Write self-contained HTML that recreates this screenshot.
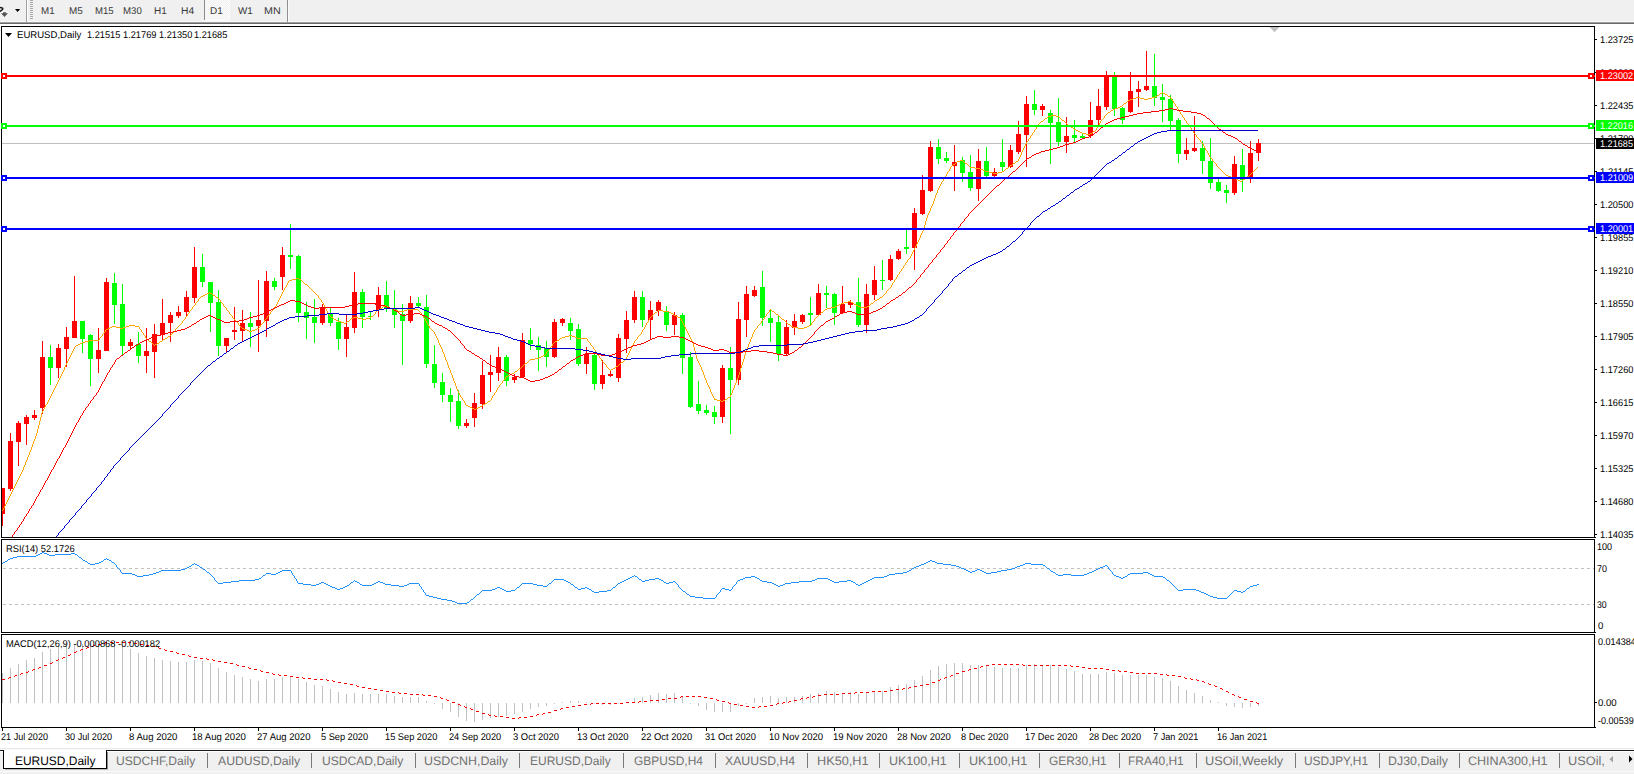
<!DOCTYPE html><html><head><meta charset="utf-8"><title>EURUSD,Daily</title>
<style>
html,body{margin:0;padding:0;background:#fff;}
body{width:1634px;height:774px;position:relative;overflow:hidden;font-family:"Liberation Sans", sans-serif;}
.t{position:absolute;white-space:pre;transform-origin:0 50%;text-rendering:geometricPrecision;}
.sep{position:absolute;top:753px;width:1px;height:15px;background:#7a7a7a;}
.lb{position:absolute;left:1596px;width:38px;height:11px;overflow:hidden;}
svg{position:absolute;left:0;top:0;}
</style></head><body>
<div style="position:absolute;left:0;top:0;width:1634px;height:22px;background:#f0f0f0;"></div>
<div style="position:absolute;left:0;top:21px;width:1634px;height:1px;background:#f6f6f6;"></div>
<div style="position:absolute;left:0;top:22px;width:1634px;height:1px;background:#a0a0a0;"></div>
<div style="position:absolute;left:0;top:23px;width:1634px;height:1px;background:#6a6a6a;"></div>
<div style="position:absolute;left:26px;top:0;width:1px;height:22px;background:#a0a0a0;"></div>
<div style="position:absolute;left:27px;top:0;width:1px;height:22px;background:#fff;"></div>
<div style="position:absolute;left:30px;top:0px;width:3px;height:19px;background:repeating-linear-gradient(to bottom,#a8a8a8 0,#a8a8a8 1px,transparent 1px,transparent 2px);"></div>
<div style="position:absolute;left:204px;top:0;width:25px;height:20px;background:repeating-conic-gradient(#fdfdfd 0 25%,#f0f0f0 0 50%) 0 0/2px 2px;border-left:1px solid #8a8a8a;box-sizing:border-box;"></div>
<div style="position:absolute;left:204px;top:20px;width:26px;height:1px;background:#fbfbfb;"></div>
<div style="position:absolute;left:229px;top:0px;width:1px;height:21px;background:#fbfbfb;"></div>
<div style="position:absolute;left:287px;top:0;width:1px;height:22px;background:#909090;"></div>
<div style="position:absolute;left:288px;top:0;width:1px;height:22px;background:#fafafa;"></div>
<div style="position:absolute;left:0;top:748px;width:1634px;height:26px;background:#f0f0f0;"></div>
<div style="position:absolute;left:0;top:748px;width:1634px;height:1px;background:#e9e9e9;"></div>
<div style="position:absolute;left:0;top:749px;width:1634px;height:1px;background:#f9f9f9;"></div>
<div style="position:absolute;left:0;top:750px;width:1634px;height:1px;background:#1a1a1a;"></div>
<div style="position:absolute;left:0;top:751px;width:1634px;height:1px;background:#fcfcfc;"></div>
<div style="position:absolute;left:0;top:771px;width:1634px;height:1px;background:#fbfbfb;"></div>
<div style="position:absolute;left:3px;top:750px;width:104px;height:19px;background:#fff;border:1px solid #000;border-top:none;box-sizing:border-box;"></div>
<div style="position:absolute;left:107px;top:752px;width:1px;height:18px;background:#8c8c8c;"></div>
<div style="position:absolute;left:5px;top:769px;width:103px;height:1px;background:#bdbdbd;"></div>
<div class="sep" style="left:207px;"></div>
<div class="sep" style="left:311px;"></div>
<div class="sep" style="left:415px;"></div>
<div class="sep" style="left:519px;"></div>
<div class="sep" style="left:623px;"></div>
<div class="sep" style="left:715px;"></div>
<div class="sep" style="left:807px;"></div>
<div class="sep" style="left:879px;"></div>
<div class="sep" style="left:959px;"></div>
<div class="sep" style="left:1039px;"></div>
<div class="sep" style="left:1119px;"></div>
<div class="sep" style="left:1196px;"></div>
<div class="sep" style="left:1295px;"></div>
<div class="sep" style="left:1379px;"></div>
<div class="sep" style="left:1459px;"></div>
<div class="sep" style="left:1559px;"></div>
<svg width="1634" height="774" viewBox="0 0 1634 774" shape-rendering="crispEdges">
<rect x="2" y="143" width="1592" height="1" fill="#c0c0c0"/>
<rect x="2" y="488" width="1" height="38" fill="#ff0000"/>
<rect x="2" y="488" width="3" height="26" fill="#ff0000"/>
<rect x="10" y="433" width="1" height="58" fill="#ff0000"/>
<rect x="8" y="441" width="5" height="48" fill="#ff0000"/>
<rect x="18" y="421" width="1" height="45" fill="#ff0000"/>
<rect x="16" y="423" width="5" height="19" fill="#ff0000"/>
<rect x="26" y="415" width="1" height="30" fill="#ff0000"/>
<rect x="24" y="417" width="5" height="7" fill="#ff0000"/>
<rect x="34" y="410" width="1" height="10" fill="#ff0000"/>
<rect x="32" y="415" width="5" height="3" fill="#ff0000"/>
<rect x="42" y="341" width="1" height="73" fill="#ff0000"/>
<rect x="40" y="357" width="5" height="51" fill="#ff0000"/>
<rect x="50" y="345" width="1" height="40" fill="#00ff00"/>
<rect x="48" y="357" width="5" height="11" fill="#00ff00"/>
<rect x="58" y="344" width="1" height="34" fill="#ff0000"/>
<rect x="56" y="348" width="5" height="20" fill="#ff0000"/>
<rect x="66" y="327" width="1" height="40" fill="#ff0000"/>
<rect x="64" y="337" width="5" height="12" fill="#ff0000"/>
<rect x="74" y="276" width="1" height="62" fill="#ff0000"/>
<rect x="72" y="321" width="5" height="17" fill="#ff0000"/>
<rect x="82" y="321" width="1" height="32" fill="#00ff00"/>
<rect x="80" y="321" width="5" height="18" fill="#00ff00"/>
<rect x="90" y="334" width="1" height="52" fill="#00ff00"/>
<rect x="88" y="335" width="5" height="24" fill="#00ff00"/>
<rect x="98" y="328" width="1" height="45" fill="#ff0000"/>
<rect x="96" y="350" width="5" height="9" fill="#ff0000"/>
<rect x="106" y="278" width="1" height="73" fill="#ff0000"/>
<rect x="104" y="282" width="5" height="69" fill="#ff0000"/>
<rect x="114" y="273" width="1" height="51" fill="#00ff00"/>
<rect x="112" y="283" width="5" height="22" fill="#00ff00"/>
<rect x="122" y="284" width="1" height="72" fill="#00ff00"/>
<rect x="120" y="304" width="5" height="42" fill="#00ff00"/>
<rect x="130" y="339" width="1" height="10" fill="#ff0000"/>
<rect x="128" y="342" width="5" height="4" fill="#ff0000"/>
<rect x="138" y="332" width="1" height="31" fill="#00ff00"/>
<rect x="136" y="344" width="5" height="12" fill="#00ff00"/>
<rect x="146" y="328" width="1" height="45" fill="#ff0000"/>
<rect x="144" y="351" width="5" height="5" fill="#ff0000"/>
<rect x="154" y="324" width="1" height="54" fill="#ff0000"/>
<rect x="152" y="334" width="5" height="18" fill="#ff0000"/>
<rect x="162" y="299" width="1" height="41" fill="#ff0000"/>
<rect x="160" y="323" width="5" height="12" fill="#ff0000"/>
<rect x="170" y="312" width="1" height="30" fill="#ff0000"/>
<rect x="168" y="315" width="5" height="8" fill="#ff0000"/>
<rect x="178" y="306" width="1" height="12" fill="#ff0000"/>
<rect x="176" y="312" width="5" height="4" fill="#ff0000"/>
<rect x="186" y="291" width="1" height="26" fill="#ff0000"/>
<rect x="184" y="297" width="5" height="15" fill="#ff0000"/>
<rect x="194" y="247" width="1" height="56" fill="#ff0000"/>
<rect x="192" y="267" width="5" height="31" fill="#ff0000"/>
<rect x="202" y="254" width="1" height="33" fill="#00ff00"/>
<rect x="200" y="267" width="5" height="15" fill="#00ff00"/>
<rect x="210" y="282" width="1" height="50" fill="#00ff00"/>
<rect x="208" y="282" width="5" height="21" fill="#00ff00"/>
<rect x="218" y="290" width="1" height="66" fill="#00ff00"/>
<rect x="216" y="302" width="5" height="44" fill="#00ff00"/>
<rect x="226" y="338" width="1" height="14" fill="#ff0000"/>
<rect x="224" y="338" width="5" height="8" fill="#ff0000"/>
<rect x="234" y="307" width="1" height="33" fill="#ff0000"/>
<rect x="232" y="330" width="5" height="2" fill="#ff0000"/>
<rect x="242" y="310" width="1" height="31" fill="#ff0000"/>
<rect x="240" y="323" width="5" height="8" fill="#ff0000"/>
<rect x="250" y="312" width="1" height="35" fill="#00ff00"/>
<rect x="248" y="323" width="5" height="4" fill="#00ff00"/>
<rect x="258" y="280" width="1" height="72" fill="#ff0000"/>
<rect x="256" y="320" width="5" height="6" fill="#ff0000"/>
<rect x="266" y="271" width="1" height="66" fill="#ff0000"/>
<rect x="264" y="281" width="5" height="40" fill="#ff0000"/>
<rect x="274" y="278" width="1" height="12" fill="#00ff00"/>
<rect x="272" y="281" width="5" height="6" fill="#00ff00"/>
<rect x="282" y="247" width="1" height="43" fill="#ff0000"/>
<rect x="280" y="255" width="5" height="22" fill="#ff0000"/>
<rect x="290" y="224" width="1" height="45" fill="#00ff00"/>
<rect x="288" y="255" width="5" height="2" fill="#00ff00"/>
<rect x="298" y="255" width="1" height="67" fill="#00ff00"/>
<rect x="296" y="256" width="5" height="57" fill="#00ff00"/>
<rect x="306" y="302" width="1" height="37" fill="#00ff00"/>
<rect x="304" y="312" width="5" height="6" fill="#00ff00"/>
<rect x="314" y="299" width="1" height="44" fill="#00ff00"/>
<rect x="312" y="317" width="5" height="6" fill="#00ff00"/>
<rect x="322" y="304" width="1" height="21" fill="#ff0000"/>
<rect x="320" y="307" width="5" height="16" fill="#ff0000"/>
<rect x="330" y="308" width="1" height="18" fill="#00ff00"/>
<rect x="328" y="313" width="5" height="10" fill="#00ff00"/>
<rect x="338" y="318" width="1" height="32" fill="#00ff00"/>
<rect x="336" y="322" width="5" height="17" fill="#00ff00"/>
<rect x="346" y="314" width="1" height="43" fill="#ff0000"/>
<rect x="344" y="327" width="5" height="12" fill="#ff0000"/>
<rect x="354" y="272" width="1" height="61" fill="#ff0000"/>
<rect x="352" y="292" width="5" height="36" fill="#ff0000"/>
<rect x="362" y="289" width="1" height="39" fill="#00ff00"/>
<rect x="360" y="292" width="5" height="25" fill="#00ff00"/>
<rect x="370" y="311" width="1" height="9" fill="#00ff00"/>
<rect x="368" y="316" width="5" height="1" fill="#00ff00"/>
<rect x="378" y="287" width="1" height="30" fill="#ff0000"/>
<rect x="376" y="295" width="5" height="15" fill="#ff0000"/>
<rect x="386" y="281" width="1" height="31" fill="#00ff00"/>
<rect x="384" y="295" width="5" height="14" fill="#00ff00"/>
<rect x="394" y="290" width="1" height="38" fill="#00ff00"/>
<rect x="392" y="309" width="5" height="6" fill="#00ff00"/>
<rect x="402" y="304" width="1" height="61" fill="#00ff00"/>
<rect x="400" y="314" width="5" height="7" fill="#00ff00"/>
<rect x="410" y="296" width="1" height="27" fill="#ff0000"/>
<rect x="408" y="303" width="5" height="18" fill="#ff0000"/>
<rect x="418" y="297" width="1" height="10" fill="#00ff00"/>
<rect x="416" y="303" width="5" height="3" fill="#00ff00"/>
<rect x="426" y="295" width="1" height="73" fill="#00ff00"/>
<rect x="424" y="307" width="5" height="57" fill="#00ff00"/>
<rect x="434" y="345" width="1" height="43" fill="#00ff00"/>
<rect x="432" y="364" width="5" height="19" fill="#00ff00"/>
<rect x="442" y="373" width="1" height="29" fill="#00ff00"/>
<rect x="440" y="382" width="5" height="13" fill="#00ff00"/>
<rect x="450" y="388" width="1" height="34" fill="#00ff00"/>
<rect x="448" y="395" width="5" height="7" fill="#00ff00"/>
<rect x="458" y="390" width="1" height="39" fill="#00ff00"/>
<rect x="456" y="401" width="5" height="25" fill="#00ff00"/>
<rect x="466" y="419" width="1" height="9" fill="#ff0000"/>
<rect x="464" y="423" width="5" height="3" fill="#ff0000"/>
<rect x="474" y="393" width="1" height="34" fill="#ff0000"/>
<rect x="472" y="403" width="5" height="15" fill="#ff0000"/>
<rect x="482" y="361" width="1" height="48" fill="#ff0000"/>
<rect x="480" y="375" width="5" height="29" fill="#ff0000"/>
<rect x="490" y="355" width="1" height="37" fill="#ff0000"/>
<rect x="488" y="372" width="5" height="3" fill="#ff0000"/>
<rect x="498" y="347" width="1" height="34" fill="#ff0000"/>
<rect x="496" y="357" width="5" height="16" fill="#ff0000"/>
<rect x="506" y="355" width="1" height="31" fill="#00ff00"/>
<rect x="504" y="357" width="5" height="24" fill="#00ff00"/>
<rect x="514" y="374" width="1" height="9" fill="#ff0000"/>
<rect x="512" y="377" width="5" height="3" fill="#ff0000"/>
<rect x="522" y="333" width="1" height="45" fill="#ff0000"/>
<rect x="520" y="340" width="5" height="37" fill="#ff0000"/>
<rect x="530" y="328" width="1" height="22" fill="#00ff00"/>
<rect x="528" y="340" width="5" height="4" fill="#00ff00"/>
<rect x="538" y="337" width="1" height="34" fill="#00ff00"/>
<rect x="536" y="345" width="5" height="5" fill="#00ff00"/>
<rect x="546" y="341" width="1" height="26" fill="#00ff00"/>
<rect x="544" y="348" width="5" height="9" fill="#00ff00"/>
<rect x="554" y="319" width="1" height="39" fill="#ff0000"/>
<rect x="552" y="322" width="5" height="35" fill="#ff0000"/>
<rect x="562" y="318" width="1" height="8" fill="#ff0000"/>
<rect x="560" y="319" width="5" height="4" fill="#ff0000"/>
<rect x="570" y="318" width="1" height="22" fill="#00ff00"/>
<rect x="568" y="323" width="5" height="8" fill="#00ff00"/>
<rect x="578" y="324" width="1" height="42" fill="#00ff00"/>
<rect x="576" y="329" width="5" height="35" fill="#00ff00"/>
<rect x="586" y="347" width="1" height="27" fill="#ff0000"/>
<rect x="584" y="354" width="5" height="10" fill="#ff0000"/>
<rect x="594" y="353" width="1" height="37" fill="#00ff00"/>
<rect x="592" y="355" width="5" height="29" fill="#00ff00"/>
<rect x="602" y="360" width="1" height="29" fill="#ff0000"/>
<rect x="600" y="375" width="5" height="9" fill="#ff0000"/>
<rect x="610" y="371" width="1" height="6" fill="#ff0000"/>
<rect x="608" y="374" width="5" height="2" fill="#ff0000"/>
<rect x="618" y="334" width="1" height="48" fill="#ff0000"/>
<rect x="616" y="338" width="5" height="40" fill="#ff0000"/>
<rect x="626" y="311" width="1" height="42" fill="#ff0000"/>
<rect x="624" y="320" width="5" height="19" fill="#ff0000"/>
<rect x="634" y="291" width="1" height="32" fill="#ff0000"/>
<rect x="632" y="297" width="5" height="23" fill="#ff0000"/>
<rect x="642" y="291" width="1" height="36" fill="#00ff00"/>
<rect x="640" y="297" width="5" height="23" fill="#00ff00"/>
<rect x="650" y="301" width="1" height="38" fill="#ff0000"/>
<rect x="648" y="310" width="5" height="10" fill="#ff0000"/>
<rect x="658" y="300" width="1" height="16" fill="#ff0000"/>
<rect x="656" y="302" width="5" height="9" fill="#ff0000"/>
<rect x="666" y="306" width="1" height="25" fill="#00ff00"/>
<rect x="664" y="311" width="5" height="14" fill="#00ff00"/>
<rect x="674" y="312" width="1" height="23" fill="#ff0000"/>
<rect x="672" y="315" width="5" height="10" fill="#ff0000"/>
<rect x="682" y="313" width="1" height="61" fill="#00ff00"/>
<rect x="680" y="315" width="5" height="43" fill="#00ff00"/>
<rect x="690" y="352" width="1" height="56" fill="#00ff00"/>
<rect x="688" y="357" width="5" height="50" fill="#00ff00"/>
<rect x="698" y="381" width="1" height="33" fill="#00ff00"/>
<rect x="696" y="404" width="5" height="7" fill="#00ff00"/>
<rect x="706" y="405" width="1" height="10" fill="#00ff00"/>
<rect x="704" y="410" width="5" height="3" fill="#00ff00"/>
<rect x="714" y="406" width="1" height="18" fill="#00ff00"/>
<rect x="712" y="412" width="5" height="5" fill="#00ff00"/>
<rect x="722" y="365" width="1" height="58" fill="#ff0000"/>
<rect x="720" y="368" width="5" height="49" fill="#ff0000"/>
<rect x="730" y="347" width="1" height="87" fill="#00ff00"/>
<rect x="728" y="368" width="5" height="12" fill="#00ff00"/>
<rect x="738" y="302" width="1" height="83" fill="#ff0000"/>
<rect x="736" y="319" width="5" height="61" fill="#ff0000"/>
<rect x="746" y="286" width="1" height="51" fill="#ff0000"/>
<rect x="744" y="294" width="5" height="26" fill="#ff0000"/>
<rect x="754" y="286" width="1" height="11" fill="#ff0000"/>
<rect x="752" y="290" width="5" height="6" fill="#ff0000"/>
<rect x="762" y="271" width="1" height="55" fill="#00ff00"/>
<rect x="760" y="287" width="5" height="31" fill="#00ff00"/>
<rect x="770" y="309" width="1" height="33" fill="#00ff00"/>
<rect x="768" y="318" width="5" height="5" fill="#00ff00"/>
<rect x="778" y="316" width="1" height="45" fill="#00ff00"/>
<rect x="776" y="322" width="5" height="32" fill="#00ff00"/>
<rect x="786" y="320" width="1" height="36" fill="#ff0000"/>
<rect x="784" y="327" width="5" height="27" fill="#ff0000"/>
<rect x="794" y="314" width="1" height="21" fill="#ff0000"/>
<rect x="792" y="321" width="5" height="7" fill="#ff0000"/>
<rect x="802" y="314" width="1" height="10" fill="#ff0000"/>
<rect x="800" y="315" width="5" height="7" fill="#ff0000"/>
<rect x="810" y="297" width="1" height="29" fill="#00ff00"/>
<rect x="808" y="313" width="5" height="2" fill="#00ff00"/>
<rect x="818" y="284" width="1" height="31" fill="#ff0000"/>
<rect x="816" y="293" width="5" height="22" fill="#ff0000"/>
<rect x="826" y="286" width="1" height="22" fill="#00ff00"/>
<rect x="824" y="293" width="5" height="2" fill="#00ff00"/>
<rect x="834" y="293" width="1" height="32" fill="#00ff00"/>
<rect x="832" y="294" width="5" height="19" fill="#00ff00"/>
<rect x="842" y="286" width="1" height="28" fill="#ff0000"/>
<rect x="840" y="304" width="5" height="9" fill="#ff0000"/>
<rect x="850" y="300" width="1" height="8" fill="#ff0000"/>
<rect x="848" y="302" width="5" height="3" fill="#ff0000"/>
<rect x="858" y="278" width="1" height="49" fill="#00ff00"/>
<rect x="856" y="302" width="5" height="23" fill="#00ff00"/>
<rect x="866" y="284" width="1" height="49" fill="#ff0000"/>
<rect x="864" y="294" width="5" height="31" fill="#ff0000"/>
<rect x="874" y="266" width="1" height="34" fill="#ff0000"/>
<rect x="872" y="280" width="5" height="15" fill="#ff0000"/>
<rect x="882" y="260" width="1" height="30" fill="#00ff00"/>
<rect x="880" y="280" width="5" height="1" fill="#00ff00"/>
<rect x="890" y="255" width="1" height="26" fill="#ff0000"/>
<rect x="888" y="259" width="5" height="21" fill="#ff0000"/>
<rect x="898" y="249" width="1" height="11" fill="#ff0000"/>
<rect x="896" y="251" width="5" height="8" fill="#ff0000"/>
<rect x="906" y="230" width="1" height="24" fill="#00ff00"/>
<rect x="904" y="247" width="5" height="2" fill="#00ff00"/>
<rect x="914" y="208" width="1" height="62" fill="#ff0000"/>
<rect x="912" y="213" width="5" height="35" fill="#ff0000"/>
<rect x="922" y="175" width="1" height="40" fill="#ff0000"/>
<rect x="920" y="190" width="5" height="24" fill="#ff0000"/>
<rect x="930" y="141" width="1" height="51" fill="#ff0000"/>
<rect x="928" y="147" width="5" height="44" fill="#ff0000"/>
<rect x="938" y="139" width="1" height="25" fill="#00ff00"/>
<rect x="936" y="147" width="5" height="12" fill="#00ff00"/>
<rect x="946" y="152" width="1" height="11" fill="#00ff00"/>
<rect x="944" y="158" width="5" height="3" fill="#00ff00"/>
<rect x="954" y="145" width="1" height="46" fill="#ff0000"/>
<rect x="952" y="162" width="5" height="4" fill="#ff0000"/>
<rect x="962" y="157" width="1" height="25" fill="#00ff00"/>
<rect x="960" y="160" width="5" height="13" fill="#00ff00"/>
<rect x="970" y="155" width="1" height="36" fill="#00ff00"/>
<rect x="968" y="172" width="5" height="16" fill="#00ff00"/>
<rect x="978" y="149" width="1" height="52" fill="#ff0000"/>
<rect x="976" y="161" width="5" height="28" fill="#ff0000"/>
<rect x="986" y="147" width="1" height="30" fill="#00ff00"/>
<rect x="984" y="161" width="5" height="15" fill="#00ff00"/>
<rect x="994" y="168" width="1" height="9" fill="#ff0000"/>
<rect x="992" y="172" width="5" height="4" fill="#ff0000"/>
<rect x="1002" y="139" width="1" height="33" fill="#00ff00"/>
<rect x="1000" y="162" width="5" height="5" fill="#00ff00"/>
<rect x="1010" y="145" width="1" height="23" fill="#ff0000"/>
<rect x="1008" y="150" width="5" height="17" fill="#ff0000"/>
<rect x="1018" y="121" width="1" height="33" fill="#ff0000"/>
<rect x="1016" y="134" width="5" height="18" fill="#ff0000"/>
<rect x="1026" y="96" width="1" height="71" fill="#ff0000"/>
<rect x="1024" y="104" width="5" height="31" fill="#ff0000"/>
<rect x="1034" y="90" width="1" height="25" fill="#00ff00"/>
<rect x="1032" y="104" width="5" height="6" fill="#00ff00"/>
<rect x="1042" y="104" width="1" height="12" fill="#ff0000"/>
<rect x="1040" y="106" width="5" height="4" fill="#ff0000"/>
<rect x="1050" y="110" width="1" height="54" fill="#00ff00"/>
<rect x="1048" y="113" width="5" height="10" fill="#00ff00"/>
<rect x="1058" y="98" width="1" height="48" fill="#00ff00"/>
<rect x="1056" y="122" width="5" height="20" fill="#00ff00"/>
<rect x="1066" y="117" width="1" height="36" fill="#ff0000"/>
<rect x="1064" y="136" width="5" height="6" fill="#ff0000"/>
<rect x="1074" y="120" width="1" height="23" fill="#00ff00"/>
<rect x="1072" y="135" width="5" height="3" fill="#00ff00"/>
<rect x="1082" y="133" width="1" height="6" fill="#00ff00"/>
<rect x="1080" y="136" width="5" height="2" fill="#00ff00"/>
<rect x="1090" y="102" width="1" height="36" fill="#ff0000"/>
<rect x="1088" y="120" width="5" height="16" fill="#ff0000"/>
<rect x="1098" y="89" width="1" height="36" fill="#ff0000"/>
<rect x="1096" y="106" width="5" height="14" fill="#ff0000"/>
<rect x="1106" y="71" width="1" height="39" fill="#ff0000"/>
<rect x="1104" y="76" width="5" height="31" fill="#ff0000"/>
<rect x="1114" y="72" width="1" height="44" fill="#00ff00"/>
<rect x="1112" y="76" width="5" height="33" fill="#00ff00"/>
<rect x="1122" y="107" width="1" height="17" fill="#00ff00"/>
<rect x="1120" y="108" width="5" height="12" fill="#00ff00"/>
<rect x="1130" y="72" width="1" height="41" fill="#ff0000"/>
<rect x="1128" y="91" width="5" height="21" fill="#ff0000"/>
<rect x="1138" y="81" width="1" height="26" fill="#ff0000"/>
<rect x="1136" y="89" width="5" height="3" fill="#ff0000"/>
<rect x="1146" y="51" width="1" height="40" fill="#ff0000"/>
<rect x="1144" y="86" width="5" height="4" fill="#ff0000"/>
<rect x="1154" y="54" width="1" height="52" fill="#00ff00"/>
<rect x="1152" y="86" width="5" height="12" fill="#00ff00"/>
<rect x="1162" y="84" width="1" height="38" fill="#00ff00"/>
<rect x="1160" y="97" width="5" height="3" fill="#00ff00"/>
<rect x="1170" y="95" width="1" height="36" fill="#00ff00"/>
<rect x="1168" y="99" width="5" height="22" fill="#00ff00"/>
<rect x="1178" y="118" width="1" height="45" fill="#00ff00"/>
<rect x="1176" y="120" width="5" height="34" fill="#00ff00"/>
<rect x="1186" y="138" width="1" height="22" fill="#ff0000"/>
<rect x="1184" y="150" width="5" height="4" fill="#ff0000"/>
<rect x="1194" y="116" width="1" height="36" fill="#ff0000"/>
<rect x="1192" y="148" width="5" height="3" fill="#ff0000"/>
<rect x="1202" y="141" width="1" height="33" fill="#00ff00"/>
<rect x="1200" y="148" width="5" height="13" fill="#00ff00"/>
<rect x="1210" y="138" width="1" height="51" fill="#00ff00"/>
<rect x="1208" y="161" width="5" height="22" fill="#00ff00"/>
<rect x="1218" y="179" width="1" height="13" fill="#00ff00"/>
<rect x="1216" y="182" width="5" height="9" fill="#00ff00"/>
<rect x="1226" y="185" width="1" height="18" fill="#00ff00"/>
<rect x="1224" y="190" width="5" height="3" fill="#00ff00"/>
<rect x="1234" y="156" width="1" height="39" fill="#ff0000"/>
<rect x="1232" y="164" width="5" height="29" fill="#ff0000"/>
<rect x="1242" y="149" width="1" height="43" fill="#00ff00"/>
<rect x="1240" y="165" width="5" height="15" fill="#00ff00"/>
<rect x="1250" y="141" width="1" height="42" fill="#ff0000"/>
<rect x="1248" y="153" width="5" height="25" fill="#ff0000"/>
<rect x="1258" y="139" width="1" height="22" fill="#ff0000"/>
<rect x="1256" y="143" width="5" height="10" fill="#ff0000"/>
<path d="M1160 93.5h2M1163 93.5h2M1165 94.5h2M1157 95.5h2M1155 96.5h2M1168 96.5h2M1136 97.5h4M1152 97.5h3M1133 98.5h3M1140 98.5h4M1148 98.5h4M1130 99.5h3M1144 99.5h4M1128 100.5h2M1124 103.5h2M1120 106.5h2M1118 107.5h2M1115 108.5h3M1113 109.5h2M1111 110.5h2M1108 112.5h2M1051 115.5h5M1048 116.5h3M1056 116.5h3M1045 118.5h2M1062 120.5h2M1041 121.5h2M1068 125.5h2M1071 127.5h2M1074 129.5h2M1076 130.5h2M1078 131.5h2M1093 131.5h2M1080 132.5h2M1082 133.5h4M1090 133.5h2M1086 134.5h4M960 160.5h3M957 161.5h3M1016 161.5h2M965 163.5h2M1013 163.5h2M953 164.5h2M1010 165.5h2M970 167.5h5M975 168.5h5M1006 168.5h2M980 169.5h3M983 170.5h2M985 171.5h4M1002 171.5h2M989 172.5h4M998 172.5h4M993 173.5h5M1226 175.5h2M1228 176.5h3M1247 176.5h2M1231 177.5h2M1233 178.5h3M1236 179.5h2M1243 179.5h2M1238 180.5h2M1240 181.5h2M296 278.5h3M292 279.5h4M299 279.5h2M289 280.5h3M305 284.5h2M207 293.5h2M210 293.5h2M205 294.5h2M203 295.5h2M213 295.5h2M201 296.5h2M216 297.5h2M880 297.5h2M877 299.5h2M875 300.5h2M848 301.5h3M844 302.5h4M851 302.5h2M841 303.5h3M871 303.5h2M839 304.5h2M854 304.5h2M837 305.5h2M856 305.5h2M383 306.5h2M386 306.5h2M835 306.5h2M858 306.5h2M867 306.5h2M388 307.5h2M831 307.5h4M860 307.5h7M380 308.5h2M390 308.5h3M827 308.5h4M378 309.5h2M393 309.5h2M407 309.5h11M825 309.5h2M395 310.5h3M404 310.5h3M658 310.5h5M398 311.5h6M663 311.5h6M772 311.5h2M655 312.5h2M669 312.5h2M821 312.5h2M671 313.5h2M776 314.5h2M674 315.5h2M371 316.5h2M676 316.5h2M331 317.5h2M353 317.5h5M678 317.5h2M351 318.5h2M358 318.5h4M366 318.5h4M334 319.5h2M362 319.5h4M782 319.5h2M336 320.5h2M338 321.5h3M347 321.5h2M341 322.5h3M344 323.5h2M788 324.5h2M129 325.5h6M809 325.5h2M112 326.5h4M126 326.5h3M135 326.5h4M791 326.5h2M807 326.5h2M110 327.5h2M116 327.5h4M123 327.5h3M793 327.5h5M804 327.5h3M108 328.5h2M120 328.5h3M242 328.5h2M257 328.5h2M798 328.5h6M106 329.5h2M244 329.5h3M255 329.5h2M247 330.5h2M252 330.5h3M249 331.5h3M569 335.5h3M168 336.5h2M565 336.5h4M572 336.5h3M562 337.5h3M575 337.5h2M165 338.5h2M560 338.5h2M577 338.5h10M163 339.5h2M89 340.5h10M557 340.5h2M85 341.5h4M149 341.5h2M160 341.5h2M555 341.5h2M82 342.5h3M80 343.5h2M157 343.5h2M78 344.5h2M155 344.5h2M76 345.5h2M543 355.5h2M541 356.5h2M539 357.5h2M535 358.5h4M530 359.5h5M621 362.5h2M525 363.5h2M616 366.5h2M519 368.5h2M613 368.5h2M611 369.5h2M515 371.5h2M512 373.5h2M510 374.5h2M508 375.5h2M506 376.5h2M728 397.5h2M714 399.5h3M725 399.5h2M717 400.5h4M723 400.5h2M488 401.5h2M721 401.5h2M485 403.5h2M483 404.5h2M466 405.5h2M468 406.5h2M480 406.5h2M470 407.5h2M478 407.5h2M472 408.5h2M476 408.5h2M474 409.5h2M2.5 510v1M3.5 508v2M4.5 506v2M5.5 504v2M6.5 502v2M7.5 500v2M8.5 498v2M9.5 496v2M10.5 494v2M11.5 492v2M12.5 490v2M13.5 488v2M14.5 486v2M15.5 484v2M16.5 482v2M17.5 480v2M18.5 478v2M19.5 476v2M20.5 474v2M21.5 472v2M22.5 470v2M23.5 467v3M24.5 465v2M25.5 462v3M26.5 460v2M27.5 457v3M28.5 455v2M29.5 452v3M30.5 450v2M31.5 447v3M32.5 444v3M33.5 441v3M34.5 439v2M35.5 436v3M36.5 433v3M37.5 429v4M38.5 425v4M39.5 421v4M40.5 417v4M41.5 413v4M42.5 411v2M43.5 409v2M44.5 407v2M45.5 405v2M46.5 404v1M47.5 402v2M48.5 400v2M49.5 398v2M50.5 396v2M51.5 394v2M52.5 392v2M53.5 390v2M54.5 388v2M55.5 386v2M56.5 384v2M57.5 382v2M58.5 380v2M59.5 378v2M60.5 376v2M61.5 374v2M62.5 372v2M63.5 370v2M64.5 367v3M65.5 365v2M66.5 363v2M67.5 361v2M68.5 359v2M69.5 357v2M70.5 355v2M71.5 353v2M72.5 351v2M73.5 349v2M74.5 347v2M75.5 346v1M99.5 338v2M100.5 337v1M101.5 336v1M102.5 334v2M103.5 333v1M104.5 332v1M105.5 330v2M139.5 327v2M140.5 329v1M141.5 330v2M142.5 332v1M143.5 333v2M144.5 335v1M145.5 336v2M146.5 338v1M147.5 339v1M148.5 340v1M151.5 342v1M152.5 343v1M153.5 344v1M154.5 345v1M159.5 342v1M162.5 340v1M167.5 337v1M170.5 335v1M171.5 334v1M172.5 333v1M173.5 332v1M174.5 331v1M175.5 329v2M176.5 328v1M177.5 327v1M178.5 326v1M179.5 325v1M180.5 324v1M181.5 323v1M182.5 321v2M183.5 320v1M184.5 319v1M185.5 317v2M186.5 316v1M187.5 314v2M188.5 313v1M189.5 311v2M190.5 310v1M191.5 309v1M192.5 307v2M193.5 306v1M194.5 305v1M195.5 303v2M196.5 302v1M197.5 301v1M198.5 299v2M199.5 298v1M200.5 297v1M209.5 292v1M212.5 294v1M215.5 296v1M218.5 298v1M219.5 299v1M220.5 300v2M221.5 302v1M222.5 303v1M223.5 304v2M224.5 306v1M225.5 307v1M226.5 308v2M227.5 310v1M228.5 311v1M229.5 312v2M230.5 314v1M231.5 315v1M232.5 316v2M233.5 318v1M234.5 319v1M235.5 320v1M236.5 321v1M237.5 322v1M238.5 323v2M239.5 325v1M240.5 326v1M241.5 327v1M259.5 327v1M260.5 325v2M261.5 324v1M262.5 323v1M263.5 322v1M264.5 320v2M265.5 319v1M266.5 318v1M267.5 316v2M268.5 315v1M269.5 314v1M270.5 312v2M271.5 311v1M272.5 310v1M273.5 308v2M274.5 307v1M275.5 306v1M276.5 304v2M277.5 302v2M278.5 300v2M279.5 298v2M280.5 296v2M281.5 294v2M282.5 292v2M283.5 290v2M284.5 288v2M285.5 287v1M286.5 285v2M287.5 283v2M288.5 281v2M301.5 280v1M302.5 281v1M303.5 282v1M304.5 283v1M307.5 285v1M308.5 286v1M309.5 287v1M310.5 288v1M311.5 289v1M312.5 290v1M313.5 291v1M314.5 292v1M315.5 293v1M316.5 294v1M317.5 295v1M318.5 296v2M319.5 298v1M320.5 299v1M321.5 300v2M322.5 302v1M323.5 303v2M324.5 305v2M325.5 307v2M326.5 309v2M327.5 311v2M328.5 313v1M329.5 314v2M330.5 316v1M333.5 318v1M346.5 322v1M349.5 320v1M350.5 319v1M370.5 317v1M373.5 315v1M374.5 314v1M375.5 312v2M376.5 311v1M377.5 310v1M382.5 307v1M385.5 305v1M418.5 310v1M419.5 311v1M420.5 312v1M421.5 313v2M422.5 315v1M423.5 316v2M424.5 318v1M425.5 319v2M426.5 321v2M427.5 323v2M428.5 325v1M429.5 326v2M430.5 328v1M431.5 329v1M432.5 330v1M433.5 331v1M434.5 332v2M435.5 334v2M436.5 336v2M437.5 338v2M438.5 340v3M439.5 343v2M440.5 345v2M441.5 347v2M442.5 349v3M443.5 352v2M444.5 354v3M445.5 357v3M446.5 360v2M447.5 362v3M448.5 365v3M449.5 368v2M450.5 370v3M451.5 373v2M452.5 375v3M453.5 378v3M454.5 381v2M455.5 383v3M456.5 386v3M457.5 389v2M458.5 391v2M459.5 393v2M460.5 395v2M461.5 397v1M462.5 398v2M463.5 400v1M464.5 401v2M465.5 403v2M482.5 405v1M487.5 402v1M490.5 400v1M491.5 398v2M492.5 396v2M493.5 395v1M494.5 393v2M495.5 392v1M496.5 390v2M497.5 388v2M498.5 387v1M499.5 385v2M500.5 384v1M501.5 383v1M502.5 381v2M503.5 380v1M504.5 379v1M505.5 377v2M514.5 372v1M517.5 370v1M518.5 369v1M521.5 367v1M522.5 366v1M523.5 365v1M524.5 364v1M527.5 362v1M528.5 361v1M529.5 360v1M545.5 354v1M546.5 352v2M547.5 351v1M548.5 350v1M549.5 348v2M550.5 347v1M551.5 346v1M552.5 344v2M553.5 343v1M554.5 342v1M559.5 339v1M587.5 339v2M588.5 341v1M589.5 342v1M590.5 343v2M591.5 345v1M592.5 346v1M593.5 347v2M594.5 349v1M595.5 350v2M596.5 352v1M597.5 353v2M598.5 355v1M599.5 356v2M600.5 358v1M601.5 359v2M602.5 361v1M603.5 362v1M604.5 363v1M605.5 364v1M606.5 365v2M607.5 367v1M608.5 368v1M609.5 369v1M610.5 370v1M615.5 367v1M618.5 365v1M619.5 364v1M620.5 363v1M623.5 361v1M624.5 360v1M625.5 359v1M626.5 357v2M627.5 355v2M628.5 353v2M629.5 351v2M630.5 349v2M631.5 347v2M632.5 345v2M633.5 343v2M634.5 341v2M635.5 340v1M636.5 339v1M637.5 337v2M638.5 336v1M639.5 335v1M640.5 334v1M641.5 332v2M642.5 330v2M643.5 329v1M644.5 327v2M645.5 325v2M646.5 323v2M647.5 322v1M648.5 320v2M649.5 318v2M650.5 317v1M651.5 316v1M652.5 315v1M653.5 314v1M654.5 313v1M657.5 311v1M673.5 314v1M680.5 318v1M681.5 319v2M682.5 321v2M683.5 323v2M684.5 325v2M685.5 327v2M686.5 329v2M687.5 331v2M688.5 333v2M689.5 335v2M690.5 337v2M691.5 339v2M692.5 341v2M693.5 343v4M694.5 347v4M695.5 351v4M696.5 355v4M697.5 359v2M698.5 361v2M699.5 363v2M700.5 365v2M701.5 367v3M702.5 370v2M703.5 372v3M704.5 375v3M705.5 378v2M706.5 380v3M707.5 383v2M708.5 385v2M709.5 387v2M710.5 389v3M711.5 392v2M712.5 394v2M713.5 396v2M714.5 398v1M727.5 398v1M730.5 395v2M731.5 393v2M732.5 390v3M733.5 388v2M734.5 385v3M735.5 383v2M736.5 380v3M737.5 378v2M738.5 375v3M739.5 372v3M740.5 368v4M741.5 365v3M742.5 362v3M743.5 359v3M744.5 355v4M745.5 352v3M746.5 349v3M747.5 347v2M748.5 344v3M749.5 342v2M750.5 339v3M751.5 337v2M752.5 334v3M753.5 332v2M754.5 330v2M755.5 329v1M756.5 328v1M757.5 326v2M758.5 325v1M759.5 324v1M760.5 323v1M761.5 321v2M762.5 320v1M763.5 319v1M764.5 317v2M765.5 316v1M766.5 314v2M767.5 313v1M768.5 312v1M769.5 310v2M770.5 309v1M771.5 310v1M774.5 312v1M775.5 313v1M778.5 315v1M779.5 316v1M780.5 317v1M781.5 318v1M784.5 320v1M785.5 321v1M786.5 322v1M787.5 323v1M790.5 325v1M811.5 323v2M812.5 322v1M813.5 321v1M814.5 319v2M815.5 318v1M816.5 317v1M817.5 316v1M818.5 315v1M819.5 314v1M820.5 313v1M823.5 311v1M824.5 310v1M853.5 303v1M869.5 305v1M870.5 304v1M873.5 302v1M874.5 301v1M879.5 298v1M882.5 296v1M883.5 295v1M884.5 294v1M885.5 293v1M886.5 291v2M887.5 290v1M888.5 289v1M889.5 288v1M890.5 287v1M891.5 285v2M892.5 283v2M893.5 282v1M894.5 280v2M895.5 279v1M896.5 277v2M897.5 275v2M898.5 274v1M899.5 272v2M900.5 271v1M901.5 269v2M902.5 268v1M903.5 266v2M904.5 265v1M905.5 263v2M906.5 262v1M907.5 260v2M908.5 259v1M909.5 258v1M910.5 256v2M911.5 254v2M912.5 252v2M913.5 250v2M914.5 248v2M915.5 246v2M916.5 244v2M917.5 242v2M918.5 240v2M919.5 238v2M920.5 235v3M921.5 233v2M922.5 231v2M923.5 228v3M924.5 225v3M925.5 221v4M926.5 218v3M927.5 215v3M928.5 213v2M929.5 211v2M930.5 208v3M931.5 206v2M932.5 204v2M933.5 201v3M934.5 198v3M935.5 195v3M936.5 193v2M937.5 190v3M938.5 188v2M939.5 186v2M940.5 184v2M941.5 182v2M942.5 181v1M943.5 179v2M944.5 177v2M945.5 176v1M946.5 174v2M947.5 172v2M948.5 171v1M949.5 169v2M950.5 167v2M951.5 166v1M952.5 165v1M955.5 163v1M956.5 162v1M963.5 161v1M964.5 162v1M967.5 164v1M968.5 165v1M969.5 166v1M1004.5 170v1M1005.5 169v1M1008.5 167v1M1009.5 166v1M1012.5 164v1M1015.5 162v1M1018.5 159v2M1019.5 157v2M1020.5 155v2M1021.5 152v3M1022.5 150v2M1023.5 148v2M1024.5 146v2M1025.5 144v2M1026.5 142v2M1027.5 141v1M1028.5 139v2M1029.5 138v1M1030.5 136v2M1031.5 135v1M1032.5 133v2M1033.5 132v1M1034.5 130v2M1035.5 129v1M1036.5 127v2M1037.5 126v1M1038.5 124v2M1039.5 123v1M1040.5 122v1M1043.5 120v1M1044.5 119v1M1047.5 117v1M1059.5 117v1M1060.5 118v1M1061.5 119v1M1064.5 121v1M1065.5 122v1M1066.5 123v1M1067.5 124v1M1070.5 126v1M1073.5 128v1M1092.5 132v1M1095.5 130v1M1096.5 128v2M1097.5 126v2M1098.5 125v1M1099.5 123v2M1100.5 121v2M1101.5 120v1M1102.5 119v1M1103.5 118v1M1104.5 116v2M1105.5 115v1M1106.5 114v1M1107.5 113v1M1110.5 111v1M1122.5 105v1M1123.5 104v1M1126.5 102v1M1127.5 101v1M1159.5 94v1M1162.5 92v1M1167.5 95v1M1170.5 97v1M1171.5 98v2M1172.5 100v1M1173.5 101v2M1174.5 103v1M1175.5 104v2M1176.5 106v1M1177.5 107v2M1178.5 109v1M1179.5 110v2M1180.5 112v2M1181.5 114v1M1182.5 115v2M1183.5 117v1M1184.5 118v2M1185.5 120v1M1186.5 121v2M1187.5 123v1M1188.5 124v1M1189.5 125v2M1190.5 127v1M1191.5 128v2M1192.5 130v1M1193.5 131v2M1194.5 133v1M1195.5 134v1M1196.5 135v2M1197.5 137v1M1198.5 138v1M1199.5 139v1M1200.5 140v2M1201.5 142v1M1202.5 143v1M1203.5 144v2M1204.5 146v2M1205.5 148v2M1206.5 150v1M1207.5 151v2M1208.5 153v2M1209.5 155v2M1210.5 157v1M1211.5 158v1M1212.5 159v2M1213.5 161v1M1214.5 162v1M1215.5 163v1M1216.5 164v2M1217.5 166v1M1218.5 167v1M1219.5 168v1M1220.5 169v1M1221.5 170v1M1222.5 171v1M1223.5 172v1M1224.5 173v1M1225.5 174v1M1242.5 180v1M1245.5 178v1M1246.5 177v1M1249.5 175v1M1250.5 174v1M1251.5 173v1M1252.5 172v1M1253.5 171v1M1254.5 170v1M1255.5 169v1M1256.5 168v1M1257.5 167v1" fill="none" stroke="#ffa500" stroke-width="1"/>
<path d="M1169 108.5h4M1165 109.5h4M1173 109.5h4M1159 110.5h6M1177 110.5h6M1151 111.5h8M1183 111.5h8M1143 112.5h8M1191 112.5h6M1137 113.5h6M1197 113.5h4M1133 114.5h4M1201 114.5h2M1129 115.5h4M1203 115.5h2M1125 116.5h4M1121 117.5h4M1117 118.5h4M1207 118.5h2M1114 119.5h3M1112 120.5h2M1110 121.5h2M1108 122.5h2M1106 123.5h2M1101 127.5h2M1219 129.5h2M1095 132.5h2M1223 132.5h2M1226 134.5h2M1091 135.5h2M1228 135.5h3M1089 136.5h2M1231 136.5h2M1085 137.5h4M1233 137.5h2M1082 138.5h3M1235 138.5h2M1080 139.5h2M1078 140.5h2M1076 141.5h2M1239 141.5h2M1073 142.5h3M1069 143.5h4M1065 144.5h4M1243 144.5h2M1063 145.5h2M1245 145.5h2M1060 146.5h3M1057 147.5h3M1248 147.5h2M1053 148.5h4M1250 148.5h2M1049 149.5h4M1252 149.5h2M1045 150.5h4M1254 150.5h2M1041 151.5h4M1039 152.5h2M1036 153.5h3M1034 154.5h2M1032 155.5h2M1029 157.5h2M1027 158.5h2M1013 171.5h2M1005 178.5h2M997 185.5h2M909 287.5h2M903 292.5h2M899 295.5h2M896 297.5h2M893 299.5h2M290 300.5h5M891 300.5h2M288 301.5h2M295 301.5h5M286 302.5h2M300 302.5h2M284 303.5h2M302 303.5h2M358 303.5h18M887 303.5h2M281 304.5h3M304 304.5h2M353 304.5h5M375 304.5h3M279 305.5h2M306 305.5h2M349 305.5h4M378 305.5h7M277 306.5h2M308 306.5h3M345 306.5h4M385 306.5h2M883 306.5h2M275 307.5h2M311 307.5h3M319 307.5h26M387 307.5h3M273 308.5h2M314 308.5h5M390 308.5h3M880 308.5h2M271 309.5h2M878 309.5h2M269 310.5h2M394 310.5h2M876 310.5h2M267 311.5h2M396 311.5h2M847 311.5h5M873 311.5h3M265 312.5h2M842 312.5h5M852 312.5h3M871 312.5h2M263 313.5h2M414 313.5h6M840 313.5h2M855 313.5h2M868 313.5h3M260 314.5h3M400 314.5h2M406 314.5h8M420 314.5h2M857 314.5h11M208 315.5h3M257 315.5h3M402 315.5h4M422 315.5h3M837 315.5h2M206 316.5h2M211 316.5h2M253 316.5h4M425 316.5h2M835 316.5h2M204 317.5h2M213 317.5h2M249 317.5h4M202 318.5h2M215 318.5h2M247 318.5h2M428 318.5h2M832 318.5h2M200 319.5h2M217 319.5h3M244 319.5h3M830 319.5h2M220 320.5h2M239 320.5h5M828 320.5h2M197 321.5h2M222 321.5h2M230 321.5h9M432 321.5h2M826 321.5h2M224 322.5h6M194 323.5h2M435 323.5h2M192 324.5h2M437 324.5h2M439 325.5h3M821 325.5h2M189 326.5h2M187 327.5h2M443 327.5h2M185 328.5h2M445 328.5h2M181 329.5h4M177 330.5h4M448 330.5h2M173 331.5h4M168 332.5h5M164 333.5h4M161 334.5h3M157 335.5h4M154 336.5h3M657 336.5h6M671 336.5h8M151 337.5h3M655 337.5h2M663 337.5h8M679 337.5h5M149 338.5h2M652 338.5h3M684 338.5h2M146 339.5h3M650 339.5h2M686 339.5h2M144 340.5h2M648 340.5h2M688 340.5h2M142 341.5h2M646 341.5h2M690 341.5h2M140 342.5h2M644 342.5h2M692 342.5h2M641 343.5h3M694 343.5h2M137 344.5h2M637 344.5h4M696 344.5h2M135 345.5h2M633 345.5h4M698 345.5h3M631 346.5h2M701 346.5h4M132 347.5h2M628 347.5h3M705 347.5h3M799 347.5h2M626 348.5h2M708 348.5h3M624 349.5h2M711 349.5h2M719 349.5h5M128 350.5h2M467 350.5h2M622 350.5h2M713 350.5h6M724 350.5h3M751 350.5h8M795 350.5h2M469 351.5h2M620 351.5h2M727 351.5h2M743 351.5h8M759 351.5h8M125 352.5h2M617 352.5h3M729 352.5h14M767 352.5h6M792 352.5h2M472 353.5h2M585 353.5h12M615 353.5h2M773 353.5h4M790 353.5h2M583 354.5h2M597 354.5h4M612 354.5h3M777 354.5h6M788 354.5h2M121 355.5h2M475 355.5h2M580 355.5h3M601 355.5h11M783 355.5h5M477 356.5h2M578 356.5h2M576 357.5h2M117 358.5h2M480 358.5h2M573 359.5h2M483 360.5h2M571 360.5h2M487 363.5h2M567 363.5h2M490 365.5h2M492 366.5h3M563 366.5h2M495 367.5h2M497 368.5h3M500 369.5h2M559 369.5h2M502 370.5h2M504 371.5h2M506 372.5h2M555 372.5h2M508 373.5h2M510 374.5h2M552 374.5h2M512 375.5h2M550 375.5h2M514 376.5h5M548 376.5h2M519 377.5h5M545 377.5h3M524 378.5h2M543 378.5h2M526 379.5h2M540 379.5h3M528 380.5h2M535 380.5h5M530 381.5h5M11.5 537v1M12.5 535v2M13.5 534v1M14.5 532v2M15.5 531v1M16.5 530v1M17.5 528v2M18.5 527v1M19.5 525v2M20.5 524v1M21.5 522v2M22.5 521v1M23.5 519v2M24.5 517v2M25.5 516v1M26.5 514v2M27.5 513v1M28.5 511v2M29.5 509v2M30.5 508v1M31.5 506v2M32.5 505v1M33.5 503v2M34.5 501v2M35.5 499v2M36.5 497v2M37.5 496v1M38.5 494v2M39.5 492v2M40.5 490v2M41.5 489v1M42.5 487v2M43.5 485v2M44.5 483v2M45.5 481v2M46.5 480v1M47.5 478v2M48.5 476v2M49.5 474v2M50.5 472v2M51.5 470v2M52.5 469v1M53.5 467v2M54.5 465v2M55.5 463v2M56.5 461v2M57.5 459v2M58.5 458v1M59.5 456v2M60.5 454v2M61.5 452v2M62.5 450v2M63.5 448v2M64.5 447v1M65.5 445v2M66.5 443v2M67.5 441v2M68.5 439v2M69.5 437v2M70.5 435v2M71.5 433v2M72.5 431v2M73.5 429v2M74.5 427v2M75.5 425v2M76.5 423v2M77.5 422v1M78.5 420v2M79.5 418v2M80.5 416v2M81.5 415v1M82.5 413v2M83.5 411v2M84.5 410v1M85.5 408v2M86.5 407v1M87.5 406v1M88.5 404v2M89.5 403v1M90.5 401v2M91.5 400v1M92.5 399v1M93.5 397v2M94.5 396v1M95.5 395v1M96.5 393v2M97.5 392v1M98.5 390v2M99.5 388v2M100.5 386v2M101.5 384v2M102.5 382v2M103.5 381v1M104.5 379v2M105.5 377v2M106.5 375v2M107.5 373v2M108.5 372v1M109.5 370v2M110.5 368v2M111.5 367v1M112.5 365v2M113.5 364v1M114.5 362v2M115.5 360v2M116.5 359v1M119.5 357v1M120.5 356v1M123.5 354v1M124.5 353v1M127.5 351v1M130.5 349v1M131.5 348v1M134.5 346v1M139.5 343v1M191.5 325v1M196.5 322v1M199.5 320v1M393.5 309v1M398.5 312v1M399.5 313v1M427.5 317v1M430.5 319v1M431.5 320v1M434.5 322v1M442.5 326v1M447.5 329v1M450.5 331v1M451.5 332v1M452.5 333v1M453.5 334v1M454.5 335v1M455.5 336v1M456.5 337v1M457.5 338v1M458.5 339v1M459.5 340v1M460.5 341v2M461.5 343v1M462.5 344v1M463.5 345v1M464.5 346v2M465.5 348v1M466.5 349v1M471.5 352v1M474.5 354v1M479.5 357v1M482.5 359v1M485.5 361v1M486.5 362v1M489.5 364v1M554.5 373v1M557.5 371v1M558.5 370v1M561.5 368v1M562.5 367v1M565.5 365v1M566.5 364v1M569.5 362v1M570.5 361v1M575.5 358v1M794.5 351v1M797.5 349v1M798.5 348v1M801.5 346v1M802.5 345v1M803.5 344v1M804.5 343v1M805.5 342v1M806.5 341v1M807.5 340v1M808.5 339v1M809.5 338v1M810.5 337v1M811.5 336v1M812.5 335v1M813.5 334v1M814.5 332v2M815.5 331v1M816.5 330v1M817.5 329v1M818.5 328v1M819.5 327v1M820.5 326v1M823.5 324v1M824.5 323v1M825.5 322v1M834.5 317v1M839.5 314v1M882.5 307v1M885.5 305v1M886.5 304v1M889.5 302v1M890.5 301v1M895.5 298v1M898.5 296v1M901.5 294v1M902.5 293v1M905.5 291v1M906.5 290v1M907.5 289v1M908.5 288v1M911.5 286v1M912.5 285v1M913.5 284v1M914.5 283v1M915.5 282v1M916.5 280v2M917.5 279v1M918.5 278v1M919.5 277v1M920.5 275v2M921.5 274v1M922.5 273v1M923.5 272v1M924.5 270v2M925.5 269v1M926.5 268v1M927.5 267v1M928.5 265v2M929.5 264v1M930.5 263v1M931.5 262v1M932.5 260v2M933.5 259v1M934.5 258v1M935.5 257v1M936.5 255v2M937.5 254v1M938.5 253v1M939.5 252v1M940.5 250v2M941.5 249v1M942.5 248v1M943.5 247v1M944.5 245v2M945.5 244v1M946.5 243v1M947.5 241v2M948.5 240v1M949.5 239v1M950.5 237v2M951.5 236v1M952.5 235v1M953.5 233v2M954.5 232v1M955.5 231v1M956.5 229v2M957.5 228v1M958.5 227v1M959.5 226v1M960.5 224v2M961.5 223v1M962.5 222v1M963.5 221v1M964.5 219v2M965.5 218v1M966.5 217v1M967.5 216v1M968.5 214v2M969.5 213v1M970.5 212v1M971.5 211v1M972.5 210v1M973.5 209v1M974.5 208v1M975.5 207v1M976.5 206v1M977.5 205v1M978.5 204v1M979.5 203v1M980.5 202v1M981.5 201v1M982.5 200v1M983.5 199v1M984.5 198v1M985.5 197v1M986.5 196v1M987.5 195v1M988.5 194v1M989.5 193v1M990.5 192v1M991.5 191v1M992.5 190v1M993.5 189v1M994.5 188v1M995.5 187v1M996.5 186v1M999.5 184v1M1000.5 183v1M1001.5 182v1M1002.5 181v1M1003.5 180v1M1004.5 179v1M1007.5 177v1M1008.5 176v1M1009.5 175v1M1010.5 174v1M1011.5 173v1M1012.5 172v1M1015.5 170v1M1016.5 169v1M1017.5 168v1M1018.5 167v1M1019.5 166v1M1020.5 165v1M1021.5 164v1M1022.5 163v1M1023.5 162v1M1024.5 161v1M1025.5 160v1M1026.5 159v1M1031.5 156v1M1093.5 134v1M1094.5 133v1M1097.5 131v1M1098.5 130v1M1099.5 129v1M1100.5 128v1M1103.5 126v1M1104.5 125v1M1105.5 124v1M1205.5 116v1M1206.5 117v1M1209.5 119v1M1210.5 120v1M1211.5 121v1M1212.5 122v1M1213.5 123v1M1214.5 124v1M1215.5 125v1M1216.5 126v1M1217.5 127v1M1218.5 128v1M1221.5 130v1M1222.5 131v1M1225.5 133v1M1237.5 139v1M1238.5 140v1M1241.5 142v1M1242.5 143v1M1247.5 146v1M1256.5 151v1" fill="none" stroke="#ff0000" stroke-width="1"/>
<path d="M1167 130.5h91M1161 131.5h6M1157 132.5h4M1154 133.5h3M1152 134.5h2M1150 135.5h2M1148 136.5h2M1146 137.5h2M1144 138.5h2M1142 139.5h2M1140 140.5h2M1138 141.5h2M1135 143.5h2M1131 146.5h2M1127 149.5h2M1123 152.5h2M1119 155.5h2M1115 158.5h2M1112 160.5h2M1109 162.5h2M1107 163.5h2M1088 181.5h2M1085 183.5h2M1083 184.5h2M1080 186.5h2M1077 188.5h2M1075 189.5h2M1071 192.5h2M1067 195.5h2M1063 198.5h2M1059 201.5h2M1056 203.5h2M1053 205.5h2M1051 206.5h2M1048 208.5h2M1045 210.5h2M1043 211.5h2M1037 216.5h2M1013 241.5h2M1007 246.5h2M1003 249.5h2M1000 251.5h2M998 252.5h2M996 253.5h2M993 254.5h3M991 255.5h2M988 256.5h3M986 257.5h2M984 258.5h2M982 259.5h2M980 260.5h2M978 261.5h2M976 262.5h2M974 263.5h2M972 264.5h2M970 265.5h2M967 267.5h2M963 270.5h2M959 273.5h2M955 276.5h2M415 307.5h5M384 308.5h31M420 308.5h2M379 309.5h5M422 309.5h2M373 310.5h6M424 310.5h3M368 311.5h5M427 311.5h2M363 312.5h5M429 312.5h2M327 313.5h12M357 313.5h6M431 313.5h2M319 314.5h8M339 314.5h18M433 314.5h3M307 315.5h12M436 315.5h3M920 315.5h2M295 316.5h12M439 316.5h2M289 317.5h6M441 317.5h3M917 317.5h2M287 318.5h2M444 318.5h3M915 318.5h2M284 319.5h3M447 319.5h2M282 320.5h2M449 320.5h3M912 320.5h2M280 321.5h2M452 321.5h3M910 321.5h2M278 322.5h2M455 322.5h2M908 322.5h2M276 323.5h2M457 323.5h3M905 323.5h3M460 324.5h3M901 324.5h4M273 325.5h2M463 325.5h2M897 325.5h4M271 326.5h2M465 326.5h4M893 326.5h4M269 327.5h2M469 327.5h4M887 327.5h6M267 328.5h2M473 328.5h4M881 328.5h6M477 329.5h4M877 329.5h4M264 330.5h2M481 330.5h4M863 330.5h14M262 331.5h2M485 331.5h4M855 331.5h8M260 332.5h2M489 332.5h6M849 332.5h6M258 333.5h2M495 333.5h5M845 333.5h4M256 334.5h2M500 334.5h3M841 334.5h4M254 335.5h2M503 335.5h2M837 335.5h4M252 336.5h2M505 336.5h3M833 336.5h4M250 337.5h2M508 337.5h3M829 337.5h4M248 338.5h2M511 338.5h2M825 338.5h4M246 339.5h2M513 339.5h4M821 339.5h4M244 340.5h2M517 340.5h4M817 340.5h4M242 341.5h2M521 341.5h3M813 341.5h4M240 342.5h2M524 342.5h2M808 342.5h5M238 343.5h2M526 343.5h2M803 343.5h5M528 344.5h2M787 344.5h16M235 345.5h2M530 345.5h5M759 345.5h28M535 346.5h6M753 346.5h6M541 347.5h4M751 347.5h2M231 348.5h2M545 348.5h30M748 348.5h3M575 349.5h8M745 349.5h3M583 350.5h6M743 350.5h2M227 351.5h2M589 351.5h4M740 351.5h3M593 352.5h4M735 352.5h5M224 353.5h2M597 353.5h4M691 353.5h44M601 354.5h4M679 354.5h12M605 355.5h4M671 355.5h8M220 356.5h2M609 356.5h4M665 356.5h6M613 357.5h4M661 357.5h4M217 358.5h2M617 358.5h6M631 358.5h30M623 359.5h8M213 361.5h2M208 365.5h2M55.5 537v1M56.5 536v1M57.5 535v1M58.5 533v2M59.5 532v1M60.5 531v1M61.5 530v1M62.5 529v1M63.5 528v1M64.5 526v2M65.5 525v1M66.5 524v1M67.5 523v1M68.5 522v1M69.5 520v2M70.5 519v1M71.5 518v1M72.5 517v1M73.5 516v1M74.5 515v1M75.5 513v2M76.5 512v1M77.5 511v1M78.5 510v1M79.5 509v1M80.5 508v1M81.5 506v2M82.5 505v1M83.5 504v1M84.5 503v1M85.5 502v1M86.5 500v2M87.5 499v1M88.5 498v1M89.5 497v1M90.5 496v1M91.5 494v2M92.5 493v1M93.5 492v1M94.5 491v1M95.5 490v1M96.5 488v2M97.5 487v1M98.5 486v1M99.5 485v1M100.5 484v1M101.5 482v2M102.5 481v1M103.5 480v1M104.5 478v2M105.5 477v1M106.5 476v1M107.5 474v2M108.5 473v1M109.5 472v1M110.5 470v2M111.5 469v1M112.5 468v1M113.5 466v2M114.5 465v1M115.5 464v1M116.5 463v1M117.5 462v1M118.5 461v1M119.5 460v1M120.5 458v2M121.5 457v1M122.5 456v1M123.5 455v1M124.5 454v1M125.5 453v1M126.5 452v1M127.5 451v1M128.5 450v1M129.5 448v2M130.5 447v1M131.5 446v1M132.5 445v1M133.5 444v1M134.5 443v1M135.5 442v1M136.5 441v1M137.5 440v1M138.5 439v1M139.5 438v1M140.5 437v1M141.5 436v1M142.5 435v1M143.5 434v1M144.5 433v1M145.5 432v1M146.5 431v1M147.5 430v1M148.5 429v1M149.5 428v1M150.5 427v1M151.5 426v1M152.5 425v1M153.5 424v1M154.5 423v1M155.5 422v1M156.5 421v1M157.5 420v1M158.5 419v1M159.5 418v1M160.5 417v1M161.5 416v1M162.5 414v2M163.5 413v1M164.5 412v1M165.5 411v1M166.5 410v1M167.5 409v1M168.5 408v1M169.5 407v1M170.5 405v2M171.5 404v1M172.5 403v1M173.5 402v1M174.5 401v1M175.5 400v1M176.5 399v1M177.5 398v1M178.5 396v2M179.5 395v1M180.5 394v1M181.5 393v1M182.5 392v1M183.5 391v1M184.5 390v1M185.5 389v1M186.5 388v1M187.5 387v1M188.5 386v1M189.5 385v1M190.5 383v2M191.5 382v1M192.5 381v1M193.5 380v1M194.5 379v1M195.5 378v1M196.5 377v1M197.5 376v1M198.5 375v1M199.5 374v1M200.5 373v1M201.5 372v1M202.5 371v1M203.5 370v1M204.5 369v1M205.5 368v1M206.5 367v1M207.5 366v1M210.5 364v1M211.5 363v1M212.5 362v1M215.5 360v1M216.5 359v1M219.5 357v1M222.5 355v1M223.5 354v1M226.5 352v1M229.5 350v1M230.5 349v1M233.5 347v1M234.5 346v1M237.5 344v1M266.5 329v1M275.5 324v1M914.5 319v1M919.5 316v1M922.5 314v1M923.5 313v1M924.5 312v1M925.5 311v1M926.5 309v2M927.5 308v1M928.5 307v1M929.5 306v1M930.5 305v1M931.5 304v1M932.5 303v1M933.5 302v1M934.5 300v2M935.5 299v1M936.5 298v1M937.5 297v1M938.5 296v1M939.5 295v1M940.5 294v1M941.5 293v1M942.5 291v2M943.5 290v1M944.5 289v1M945.5 288v1M946.5 287v1M947.5 286v1M948.5 284v2M949.5 283v1M950.5 282v1M951.5 281v1M952.5 279v2M953.5 278v1M954.5 277v1M957.5 275v1M958.5 274v1M961.5 272v1M962.5 271v1M965.5 269v1M966.5 268v1M969.5 266v1M1002.5 250v1M1005.5 248v1M1006.5 247v1M1009.5 245v1M1010.5 244v1M1011.5 243v1M1012.5 242v1M1015.5 240v1M1016.5 239v1M1017.5 238v1M1018.5 237v1M1019.5 236v1M1020.5 235v1M1021.5 234v1M1022.5 232v2M1023.5 231v1M1024.5 230v1M1025.5 229v1M1026.5 228v1M1027.5 227v1M1028.5 226v1M1029.5 225v1M1030.5 223v2M1031.5 222v1M1032.5 221v1M1033.5 220v1M1034.5 219v1M1035.5 218v1M1036.5 217v1M1039.5 215v1M1040.5 214v1M1041.5 213v1M1042.5 212v1M1047.5 209v1M1050.5 207v1M1055.5 204v1M1058.5 202v1M1061.5 200v1M1062.5 199v1M1065.5 197v1M1066.5 196v1M1069.5 194v1M1070.5 193v1M1073.5 191v1M1074.5 190v1M1079.5 187v1M1082.5 185v1M1087.5 182v1M1090.5 180v1M1091.5 179v1M1092.5 178v1M1093.5 177v1M1094.5 176v1M1095.5 175v1M1096.5 174v1M1097.5 173v1M1098.5 172v1M1099.5 171v1M1100.5 170v1M1101.5 169v1M1102.5 168v1M1103.5 167v1M1104.5 166v1M1105.5 165v1M1106.5 164v1M1111.5 161v1M1114.5 159v1M1117.5 157v1M1118.5 156v1M1121.5 154v1M1122.5 153v1M1125.5 151v1M1126.5 150v1M1129.5 148v1M1130.5 147v1M1133.5 145v1M1134.5 144v1M1137.5 142v1" fill="none" stroke="#0000cd" stroke-width="1"/>
<rect x="2" y="75" width="1593" height="2" fill="#ff0000"/>
<rect x="2" y="125" width="1593" height="2" fill="#00ff00"/>
<rect x="2" y="177" width="1593" height="2" fill="#0000ff"/>
<rect x="2" y="228" width="1593" height="2" fill="#0000ff"/>
<polygon points="1269.5,27 1279.5,27 1274.5,32.2" fill="#c0c0c0" shape-rendering="auto"/>
<polygon points="5,33 12,33 8.5,37" fill="#000" shape-rendering="auto"/>
<rect x="1" y="26" width="1594" height="1" fill="#000"/>
<rect x="1" y="537" width="1595" height="1" fill="#000"/>
<rect x="1" y="26" width="1" height="512" fill="#000"/>
<rect x="1594" y="26" width="1" height="512" fill="#000"/>
<rect x="1" y="539" width="1594" height="1" fill="#000"/>
<rect x="1" y="632" width="1595" height="1" fill="#000"/>
<rect x="1" y="539" width="1" height="94" fill="#000"/>
<rect x="1594" y="539" width="1" height="94" fill="#000"/>
<rect x="1" y="634" width="1594" height="1" fill="#000"/>
<rect x="1" y="727" width="1595" height="1" fill="#000"/>
<rect x="1" y="634" width="1" height="94" fill="#000"/>
<rect x="1594" y="634" width="1" height="94" fill="#000"/>
<rect x="1594" y="75" width="1" height="2" fill="#ff0000"/>
<rect x="1" y="73" width="6" height="6" fill="#ff0000"/>
<rect x="3" y="75" width="2" height="2" fill="#fff"/>
<rect x="1588" y="73" width="6" height="6" fill="#ff0000"/>
<rect x="1590" y="75" width="2" height="2" fill="#fff"/>
<rect x="1594" y="125" width="1" height="2" fill="#00ff00"/>
<rect x="1" y="123" width="6" height="6" fill="#00ff00"/>
<rect x="3" y="125" width="2" height="2" fill="#fff"/>
<rect x="1588" y="123" width="6" height="6" fill="#00ff00"/>
<rect x="1590" y="125" width="2" height="2" fill="#fff"/>
<rect x="1594" y="177" width="1" height="2" fill="#0000ff"/>
<rect x="1" y="175" width="6" height="6" fill="#0000ff"/>
<rect x="3" y="177" width="2" height="2" fill="#fff"/>
<rect x="1588" y="175" width="6" height="6" fill="#0000ff"/>
<rect x="1590" y="177" width="2" height="2" fill="#fff"/>
<rect x="1594" y="228" width="1" height="2" fill="#0000ff"/>
<rect x="1" y="226" width="6" height="6" fill="#0000ff"/>
<rect x="3" y="228" width="2" height="2" fill="#fff"/>
<rect x="1588" y="226" width="6" height="6" fill="#0000ff"/>
<rect x="1590" y="228" width="2" height="2" fill="#fff"/>
<rect x="1595" y="39" width="2" height="1" fill="#000"/>
<rect x="1595" y="72" width="2" height="1" fill="#000"/>
<rect x="1595" y="105" width="2" height="1" fill="#000"/>
<rect x="1595" y="138" width="2" height="1" fill="#000"/>
<rect x="1595" y="171" width="2" height="1" fill="#000"/>
<rect x="1595" y="204" width="2" height="1" fill="#000"/>
<rect x="1595" y="237" width="2" height="1" fill="#000"/>
<rect x="1595" y="270" width="2" height="1" fill="#000"/>
<rect x="1595" y="303" width="2" height="1" fill="#000"/>
<rect x="1595" y="336" width="2" height="1" fill="#000"/>
<rect x="1595" y="369" width="2" height="1" fill="#000"/>
<rect x="1595" y="402" width="2" height="1" fill="#000"/>
<rect x="1595" y="435" width="2" height="1" fill="#000"/>
<rect x="1595" y="468" width="2" height="1" fill="#000"/>
<rect x="1595" y="501" width="2" height="1" fill="#000"/>
<rect x="1595" y="534" width="2" height="1" fill="#000"/>
<line x1="3" y1="568.5" x2="1594" y2="568.5" stroke="#c0c0c0" stroke-width="1" stroke-dasharray="3 3"/>
<line x1="3" y1="604.5" x2="1594" y2="604.5" stroke="#c0c0c0" stroke-width="1" stroke-dasharray="3 3"/>
<path d="M42 552.5h2M40 553.5h2M44 553.5h3M71 553.5h4M38 554.5h2M47 554.5h2M55 554.5h16M75 554.5h2M36 555.5h2M49 555.5h6M17 556.5h19M13 557.5h4M79 557.5h2M10 558.5h3M8 559.5h2M104 559.5h2M107 559.5h2M83 560.5h2M109 560.5h2M930 560.5h2M5 561.5h2M85 561.5h2M101 561.5h2M928 561.5h2M932 561.5h3M3 562.5h2M99 562.5h2M112 562.5h2M926 562.5h2M935 562.5h2M88 563.5h2M95 563.5h4M924 563.5h2M937 563.5h6M1025 563.5h6M90 564.5h5M192 564.5h2M195 564.5h2M921 564.5h3M943 564.5h8M1023 564.5h2M1031 564.5h12M197 565.5h2M919 565.5h2M951 565.5h5M1020 565.5h3M1043 565.5h2M1105 565.5h2M189 566.5h2M916 566.5h3M956 566.5h3M1017 566.5h3M1103 566.5h2M187 567.5h2M200 567.5h2M914 567.5h2M959 567.5h2M1015 567.5h2M1100 567.5h3M185 568.5h2M912 568.5h2M961 568.5h3M1012 568.5h3M1047 568.5h2M1098 568.5h2M181 569.5h4M203 569.5h2M964 569.5h2M977 569.5h3M1007 569.5h5M1096 569.5h2M161 570.5h20M282 570.5h9M909 570.5h2M966 570.5h2M975 570.5h2M980 570.5h2M1001 570.5h6M1094 570.5h2M159 571.5h2M280 571.5h2M907 571.5h2M968 571.5h2M972 571.5h3M982 571.5h2M997 571.5h4M1051 571.5h2M1092 571.5h2M156 572.5h3M207 572.5h2M278 572.5h2M903 572.5h4M970 572.5h2M984 572.5h2M991 572.5h6M1053 572.5h2M1089 572.5h3M1143 572.5h5M122 573.5h10M153 573.5h3M266 573.5h5M276 573.5h2M895 573.5h8M986 573.5h5M1087 573.5h2M1130 573.5h13M1148 573.5h2M132 574.5h3M149 574.5h4M271 574.5h5M889 574.5h6M1056 574.5h2M1063 574.5h8M1084 574.5h3M1128 574.5h2M1150 574.5h2M135 575.5h2M143 575.5h6M263 575.5h2M887 575.5h2M1058 575.5h5M1071 575.5h13M1114 575.5h2M1152 575.5h2M137 576.5h6M632 576.5h2M635 576.5h2M751 576.5h4M884 576.5h3M1116 576.5h3M1125 576.5h2M1154 576.5h9M630 577.5h2M745 577.5h6M755 577.5h2M874 577.5h10M1119 577.5h2M1123 577.5h2M1163 577.5h2M259 578.5h2M628 578.5h2M655 578.5h4M743 578.5h2M757 578.5h2M817 578.5h11M872 578.5h2M1121 578.5h2M255 579.5h4M554 579.5h10M626 579.5h2M639 579.5h2M649 579.5h6M659 579.5h2M740 579.5h3M815 579.5h2M828 579.5h2M870 579.5h2M239 580.5h16M564 580.5h2M624 580.5h2M645 580.5h4M661 580.5h2M738 580.5h2M760 580.5h2M812 580.5h3M830 580.5h2M847 580.5h4M868 580.5h2M1167 580.5h2M231 581.5h8M355 581.5h2M378 581.5h2M566 581.5h2M622 581.5h2M642 581.5h3M673 581.5h2M762 581.5h5M799 581.5h13M832 581.5h2M839 581.5h8M851 581.5h2M866 581.5h2M223 582.5h8M321 582.5h3M351 582.5h2M357 582.5h2M376 582.5h2M380 582.5h3M568 582.5h2M620 582.5h2M664 582.5h2M669 582.5h4M767 582.5h5M791 582.5h8M834 582.5h5M853 582.5h2M864 582.5h2M218 583.5h5M298 583.5h5M319 583.5h2M324 583.5h2M374 583.5h2M383 583.5h2M409 583.5h10M522 583.5h11M549 583.5h2M618 583.5h2M666 583.5h3M772 583.5h2M785 583.5h6M862 583.5h2M303 584.5h8M316 584.5h3M326 584.5h2M360 584.5h2M372 584.5h2M385 584.5h6M407 584.5h2M533 584.5h4M571 584.5h2M774 584.5h2M783 584.5h2M856 584.5h2M860 584.5h2M1257 584.5h2M311 585.5h5M328 585.5h2M347 585.5h2M362 585.5h10M391 585.5h8M404 585.5h3M537 585.5h6M776 585.5h2M780 585.5h3M858 585.5h2M1253 585.5h4M330 586.5h2M345 586.5h2M399 586.5h5M543 586.5h4M778 586.5h2M1250 586.5h3M332 587.5h3M343 587.5h2M497 587.5h3M517 587.5h2M575 587.5h2M585 587.5h2M613 587.5h2M335 588.5h2M340 588.5h3M495 588.5h2M500 588.5h2M581 588.5h4M587 588.5h2M722 588.5h3M1247 588.5h2M337 589.5h3M492 589.5h3M502 589.5h2M578 589.5h3M589 589.5h2M725 589.5h4M1183 589.5h13M482 590.5h10M504 590.5h2M511 590.5h4M607 590.5h4M729 590.5h2M1178 590.5h5M1196 590.5h3M1234 590.5h3M506 591.5h5M592 591.5h2M599 591.5h8M683 591.5h2M1199 591.5h2M1237 591.5h4M1243 591.5h2M594 592.5h5M1201 592.5h3M1241 592.5h2M1204 593.5h2M477 594.5h2M687 594.5h2M1206 594.5h2M426 595.5h3M1208 595.5h2M429 596.5h4M690 596.5h5M1210 596.5h3M433 597.5h4M695 597.5h8M1213 597.5h4M437 598.5h4M703 598.5h12M1217 598.5h10M441 599.5h6M471 599.5h2M447 600.5h5M452 601.5h3M455 602.5h2M467 602.5h2M457 603.5h10M2.5 563v1M7.5 560v1M77.5 555v1M78.5 556v1M81.5 558v1M82.5 559v1M87.5 562v1M103.5 560v1M106.5 558v1M111.5 561v1M114.5 563v1M115.5 564v1M116.5 565v2M117.5 567v1M118.5 568v1M119.5 569v1M120.5 570v2M121.5 572v1M191.5 565v1M194.5 563v1M199.5 566v1M202.5 568v1M205.5 570v1M206.5 571v1M209.5 573v1M210.5 574v1M211.5 575v1M212.5 576v1M213.5 577v1M214.5 578v2M215.5 580v1M216.5 581v1M217.5 582v1M261.5 577v1M262.5 576v1M265.5 574v1M291.5 571v2M292.5 573v2M293.5 575v1M294.5 576v2M295.5 578v1M296.5 579v2M297.5 581v2M349.5 584v1M350.5 583v1M353.5 581v1M354.5 580v1M359.5 583v1M419.5 584v2M420.5 586v1M421.5 587v2M422.5 589v1M423.5 590v2M424.5 592v1M425.5 593v2M469.5 601v1M470.5 600v1M473.5 598v1M474.5 597v1M475.5 596v1M476.5 595v1M479.5 593v1M480.5 592v1M481.5 591v1M515.5 589v1M516.5 588v1M519.5 586v1M520.5 585v1M521.5 584v1M547.5 585v1M548.5 584v1M551.5 582v1M552.5 581v1M553.5 580v1M570.5 583v1M573.5 585v1M574.5 586v1M577.5 588v1M591.5 590v1M611.5 589v1M612.5 588v1M615.5 586v1M616.5 585v1M617.5 584v1M634.5 575v1M637.5 577v1M638.5 578v1M641.5 580v1M663.5 581v1M675.5 582v1M676.5 583v1M677.5 584v1M678.5 585v2M679.5 587v1M680.5 588v1M681.5 589v1M682.5 590v1M685.5 592v1M686.5 593v1M689.5 595v1M715.5 597v1M716.5 595v2M717.5 594v1M718.5 593v1M719.5 592v1M720.5 590v2M721.5 589v1M731.5 589v1M732.5 587v2M733.5 586v1M734.5 585v1M735.5 584v1M736.5 582v2M737.5 581v1M759.5 579v1M855.5 583v1M911.5 569v1M1045.5 566v1M1046.5 567v1M1049.5 569v1M1050.5 570v1M1055.5 573v1M1107.5 566v1M1108.5 567v2M1109.5 569v1M1110.5 570v1M1111.5 571v1M1112.5 572v2M1113.5 574v1M1127.5 575v1M1165.5 578v1M1166.5 579v1M1169.5 581v1M1170.5 582v1M1171.5 583v1M1172.5 584v1M1173.5 585v1M1174.5 586v1M1175.5 587v1M1176.5 588v1M1177.5 589v1M1227.5 597v1M1228.5 596v1M1229.5 595v1M1230.5 594v1M1231.5 593v1M1232.5 592v1M1233.5 591v1M1245.5 590v1M1246.5 589v1M1249.5 587v1" fill="none" stroke="#1e90ff" stroke-width="1"/>
<rect x="2" y="673" width="1" height="30" fill="#c0c0c0"/>
<rect x="10" y="668" width="1" height="35" fill="#c0c0c0"/>
<rect x="18" y="664" width="1" height="39" fill="#c0c0c0"/>
<rect x="26" y="660" width="1" height="43" fill="#c0c0c0"/>
<rect x="34" y="658" width="1" height="45" fill="#c0c0c0"/>
<rect x="42" y="652" width="1" height="51" fill="#c0c0c0"/>
<rect x="50" y="649" width="1" height="54" fill="#c0c0c0"/>
<rect x="58" y="647" width="1" height="56" fill="#c0c0c0"/>
<rect x="66" y="645" width="1" height="58" fill="#c0c0c0"/>
<rect x="74" y="644" width="1" height="59" fill="#c0c0c0"/>
<rect x="82" y="644" width="1" height="59" fill="#c0c0c0"/>
<rect x="90" y="644" width="1" height="59" fill="#c0c0c0"/>
<rect x="98" y="644" width="1" height="59" fill="#c0c0c0"/>
<rect x="106" y="642" width="1" height="61" fill="#c0c0c0"/>
<rect x="114" y="642" width="1" height="61" fill="#c0c0c0"/>
<rect x="122" y="645" width="1" height="58" fill="#c0c0c0"/>
<rect x="130" y="649" width="1" height="54" fill="#c0c0c0"/>
<rect x="138" y="653" width="1" height="50" fill="#c0c0c0"/>
<rect x="146" y="656" width="1" height="47" fill="#c0c0c0"/>
<rect x="154" y="658" width="1" height="45" fill="#c0c0c0"/>
<rect x="162" y="660" width="1" height="43" fill="#c0c0c0"/>
<rect x="170" y="661" width="1" height="42" fill="#c0c0c0"/>
<rect x="178" y="662" width="1" height="41" fill="#c0c0c0"/>
<rect x="186" y="662" width="1" height="41" fill="#c0c0c0"/>
<rect x="194" y="660" width="1" height="43" fill="#c0c0c0"/>
<rect x="202" y="661" width="1" height="42" fill="#c0c0c0"/>
<rect x="210" y="663" width="1" height="40" fill="#c0c0c0"/>
<rect x="218" y="668" width="1" height="35" fill="#c0c0c0"/>
<rect x="226" y="672" width="1" height="31" fill="#c0c0c0"/>
<rect x="234" y="675" width="1" height="28" fill="#c0c0c0"/>
<rect x="242" y="677" width="1" height="26" fill="#c0c0c0"/>
<rect x="250" y="679" width="1" height="24" fill="#c0c0c0"/>
<rect x="258" y="681" width="1" height="22" fill="#c0c0c0"/>
<rect x="266" y="679" width="1" height="24" fill="#c0c0c0"/>
<rect x="274" y="679" width="1" height="24" fill="#c0c0c0"/>
<rect x="282" y="677" width="1" height="26" fill="#c0c0c0"/>
<rect x="290" y="676" width="1" height="27" fill="#c0c0c0"/>
<rect x="298" y="679" width="1" height="24" fill="#c0c0c0"/>
<rect x="306" y="682" width="1" height="21" fill="#c0c0c0"/>
<rect x="314" y="685" width="1" height="18" fill="#c0c0c0"/>
<rect x="322" y="686" width="1" height="17" fill="#c0c0c0"/>
<rect x="330" y="689" width="1" height="14" fill="#c0c0c0"/>
<rect x="338" y="692" width="1" height="11" fill="#c0c0c0"/>
<rect x="346" y="694" width="1" height="9" fill="#c0c0c0"/>
<rect x="354" y="693" width="1" height="10" fill="#c0c0c0"/>
<rect x="362" y="694" width="1" height="9" fill="#c0c0c0"/>
<rect x="370" y="694" width="1" height="9" fill="#c0c0c0"/>
<rect x="378" y="694" width="1" height="9" fill="#c0c0c0"/>
<rect x="386" y="694" width="1" height="9" fill="#c0c0c0"/>
<rect x="394" y="696" width="1" height="7" fill="#c0c0c0"/>
<rect x="402" y="697" width="1" height="6" fill="#c0c0c0"/>
<rect x="410" y="697" width="1" height="6" fill="#c0c0c0"/>
<rect x="418" y="697" width="1" height="6" fill="#c0c0c0"/>
<rect x="426" y="701" width="1" height="2" fill="#c0c0c0"/>
<rect x="434" y="703" width="1" height="1" fill="#c0c0c0"/>
<rect x="442" y="703" width="1" height="6" fill="#c0c0c0"/>
<rect x="450" y="703" width="1" height="9" fill="#c0c0c0"/>
<rect x="458" y="703" width="1" height="14" fill="#c0c0c0"/>
<rect x="466" y="703" width="1" height="18" fill="#c0c0c0"/>
<rect x="474" y="703" width="1" height="19" fill="#c0c0c0"/>
<rect x="482" y="703" width="1" height="17" fill="#c0c0c0"/>
<rect x="490" y="703" width="1" height="15" fill="#c0c0c0"/>
<rect x="498" y="703" width="1" height="14" fill="#c0c0c0"/>
<rect x="506" y="703" width="1" height="13" fill="#c0c0c0"/>
<rect x="514" y="703" width="1" height="11" fill="#c0c0c0"/>
<rect x="522" y="703" width="1" height="9" fill="#c0c0c0"/>
<rect x="530" y="703" width="1" height="6" fill="#c0c0c0"/>
<rect x="538" y="703" width="1" height="4" fill="#c0c0c0"/>
<rect x="546" y="703" width="1" height="3" fill="#c0c0c0"/>
<rect x="554" y="703" width="1" height="1" fill="#c0c0c0"/>
<rect x="562" y="702" width="1" height="1" fill="#c0c0c0"/>
<rect x="570" y="701" width="1" height="2" fill="#c0c0c0"/>
<rect x="578" y="701" width="1" height="2" fill="#c0c0c0"/>
<rect x="586" y="702" width="1" height="1" fill="#c0c0c0"/>
<rect x="594" y="703" width="1" height="1" fill="#c0c0c0"/>
<rect x="602" y="703" width="1" height="2" fill="#c0c0c0"/>
<rect x="610" y="703" width="1" height="2" fill="#c0c0c0"/>
<rect x="618" y="703" width="1" height="1" fill="#c0c0c0"/>
<rect x="626" y="702" width="1" height="1" fill="#c0c0c0"/>
<rect x="634" y="698" width="1" height="5" fill="#c0c0c0"/>
<rect x="642" y="697" width="1" height="6" fill="#c0c0c0"/>
<rect x="650" y="695" width="1" height="8" fill="#c0c0c0"/>
<rect x="658" y="693" width="1" height="10" fill="#c0c0c0"/>
<rect x="666" y="694" width="1" height="9" fill="#c0c0c0"/>
<rect x="674" y="693" width="1" height="10" fill="#c0c0c0"/>
<rect x="682" y="696" width="1" height="7" fill="#c0c0c0"/>
<rect x="690" y="703" width="1" height="1" fill="#c0c0c0"/>
<rect x="698" y="703" width="1" height="3" fill="#c0c0c0"/>
<rect x="706" y="703" width="1" height="7" fill="#c0c0c0"/>
<rect x="714" y="703" width="1" height="9" fill="#c0c0c0"/>
<rect x="722" y="703" width="1" height="9" fill="#c0c0c0"/>
<rect x="730" y="703" width="1" height="9" fill="#c0c0c0"/>
<rect x="738" y="703" width="1" height="3" fill="#c0c0c0"/>
<rect x="746" y="703" width="1" height="1" fill="#c0c0c0"/>
<rect x="754" y="698" width="1" height="5" fill="#c0c0c0"/>
<rect x="762" y="697" width="1" height="6" fill="#c0c0c0"/>
<rect x="770" y="696" width="1" height="7" fill="#c0c0c0"/>
<rect x="778" y="698" width="1" height="5" fill="#c0c0c0"/>
<rect x="786" y="697" width="1" height="6" fill="#c0c0c0"/>
<rect x="794" y="697" width="1" height="6" fill="#c0c0c0"/>
<rect x="802" y="696" width="1" height="7" fill="#c0c0c0"/>
<rect x="810" y="694" width="1" height="9" fill="#c0c0c0"/>
<rect x="818" y="693" width="1" height="10" fill="#c0c0c0"/>
<rect x="826" y="691" width="1" height="12" fill="#c0c0c0"/>
<rect x="834" y="692" width="1" height="11" fill="#c0c0c0"/>
<rect x="842" y="693" width="1" height="10" fill="#c0c0c0"/>
<rect x="850" y="692" width="1" height="11" fill="#c0c0c0"/>
<rect x="858" y="694" width="1" height="9" fill="#c0c0c0"/>
<rect x="866" y="693" width="1" height="10" fill="#c0c0c0"/>
<rect x="874" y="691" width="1" height="12" fill="#c0c0c0"/>
<rect x="882" y="691" width="1" height="12" fill="#c0c0c0"/>
<rect x="890" y="687" width="1" height="16" fill="#c0c0c0"/>
<rect x="898" y="685" width="1" height="18" fill="#c0c0c0"/>
<rect x="906" y="684" width="1" height="19" fill="#c0c0c0"/>
<rect x="914" y="680" width="1" height="23" fill="#c0c0c0"/>
<rect x="922" y="676" width="1" height="27" fill="#c0c0c0"/>
<rect x="930" y="670" width="1" height="33" fill="#c0c0c0"/>
<rect x="938" y="666" width="1" height="37" fill="#c0c0c0"/>
<rect x="946" y="664" width="1" height="39" fill="#c0c0c0"/>
<rect x="954" y="663" width="1" height="40" fill="#c0c0c0"/>
<rect x="962" y="663" width="1" height="40" fill="#c0c0c0"/>
<rect x="970" y="665" width="1" height="38" fill="#c0c0c0"/>
<rect x="978" y="665" width="1" height="38" fill="#c0c0c0"/>
<rect x="986" y="666" width="1" height="37" fill="#c0c0c0"/>
<rect x="994" y="667" width="1" height="36" fill="#c0c0c0"/>
<rect x="1002" y="668" width="1" height="35" fill="#c0c0c0"/>
<rect x="1010" y="668" width="1" height="35" fill="#c0c0c0"/>
<rect x="1018" y="668" width="1" height="35" fill="#c0c0c0"/>
<rect x="1026" y="665" width="1" height="38" fill="#c0c0c0"/>
<rect x="1034" y="664" width="1" height="39" fill="#c0c0c0"/>
<rect x="1042" y="665" width="1" height="38" fill="#c0c0c0"/>
<rect x="1050" y="665" width="1" height="38" fill="#c0c0c0"/>
<rect x="1058" y="667" width="1" height="36" fill="#c0c0c0"/>
<rect x="1066" y="669" width="1" height="34" fill="#c0c0c0"/>
<rect x="1074" y="671" width="1" height="32" fill="#c0c0c0"/>
<rect x="1082" y="674" width="1" height="29" fill="#c0c0c0"/>
<rect x="1090" y="674" width="1" height="29" fill="#c0c0c0"/>
<rect x="1098" y="674" width="1" height="29" fill="#c0c0c0"/>
<rect x="1106" y="672" width="1" height="31" fill="#c0c0c0"/>
<rect x="1114" y="673" width="1" height="30" fill="#c0c0c0"/>
<rect x="1122" y="675" width="1" height="28" fill="#c0c0c0"/>
<rect x="1130" y="675" width="1" height="28" fill="#c0c0c0"/>
<rect x="1138" y="675" width="1" height="28" fill="#c0c0c0"/>
<rect x="1146" y="675" width="1" height="28" fill="#c0c0c0"/>
<rect x="1154" y="677" width="1" height="26" fill="#c0c0c0"/>
<rect x="1162" y="678" width="1" height="25" fill="#c0c0c0"/>
<rect x="1170" y="681" width="1" height="22" fill="#c0c0c0"/>
<rect x="1178" y="686" width="1" height="17" fill="#c0c0c0"/>
<rect x="1186" y="690" width="1" height="13" fill="#c0c0c0"/>
<rect x="1194" y="693" width="1" height="10" fill="#c0c0c0"/>
<rect x="1202" y="696" width="1" height="7" fill="#c0c0c0"/>
<rect x="1210" y="700" width="1" height="3" fill="#c0c0c0"/>
<rect x="1218" y="702" width="1" height="1" fill="#c0c0c0"/>
<rect x="1226" y="703" width="1" height="3" fill="#c0c0c0"/>
<rect x="1234" y="703" width="1" height="4" fill="#c0c0c0"/>
<rect x="1242" y="703" width="1" height="5" fill="#c0c0c0"/>
<rect x="1250" y="703" width="1" height="4" fill="#c0c0c0"/>
<rect x="1258" y="703" width="1" height="3" fill="#c0c0c0"/>
<path d="M105 642.5h2M110 642.5h3M116 642.5h3M122 642.5h3M128 642.5h3M134 643.5h3M98 644.5h3M140 644.5h3M93 645.5h2M146 645.5h3M152 646.5h3M87 647.5h2M159 648.5h2M81 649.5h2M165 650.5h2M170 651.5h3M74 652.5h2M177 653.5h2M182 654.5h3M68 655.5h2M189 656.5h2M63 657.5h2M194 657.5h3M200 658.5h3M207 659.5h2M56 660.5h2M213 660.5h2M218 661.5h3M224 662.5h3M50 663.5h2M230 663.5h3M992 664.5h3M998 664.5h3M1004 664.5h3M1010 664.5h3M1016 664.5h3M44 665.5h3M237 665.5h2M986 665.5h3M1023 665.5h2M1028 665.5h3M1034 665.5h3M1040 665.5h3M1046 665.5h3M1052 665.5h3M1058 665.5h3M1064 665.5h3M242 666.5h3M981 666.5h2M1071 666.5h2M1076 666.5h3M39 667.5h2M1082 667.5h3M249 668.5h2M974 668.5h3M1088 668.5h3M1094 668.5h3M1100 668.5h3M33 669.5h2M254 669.5h3M969 669.5h2M1106 669.5h3M1112 670.5h3M261 671.5h2M962 671.5h3M1119 671.5h2M1124 671.5h3M26 672.5h2M266 672.5h3M1130 672.5h3M21 673.5h2M956 673.5h3M1136 673.5h3M1142 673.5h3M1148 673.5h3M1154 673.5h3M273 674.5h2M1160 674.5h3M15 675.5h2M279 675.5h2M284 675.5h3M951 675.5h2M1167 675.5h2M1172 675.5h3M290 676.5h3M1178 676.5h3M9 677.5h2M296 677.5h3M945 677.5h2M303 678.5h2M308 678.5h3M1185 678.5h2M2 679.5h3M314 679.5h3M320 679.5h3M1191 679.5h2M327 680.5h2M938 680.5h2M1197 680.5h2M333 681.5h2M1202 681.5h2M338 682.5h3M932 682.5h3M344 683.5h3M350 684.5h3M926 684.5h3M1209 684.5h2M920 685.5h3M357 686.5h2M914 686.5h3M1215 686.5h2M362 687.5h3M909 687.5h2M368 688.5h3M903 688.5h2M1220 688.5h2M374 689.5h3M896 689.5h3M380 690.5h3M890 690.5h3M386 691.5h3M872 691.5h3M878 691.5h3M884 691.5h3M1226 691.5h2M392 692.5h3M855 692.5h2M860 692.5h3M866 692.5h3M399 693.5h2M404 693.5h3M842 693.5h3M848 693.5h3M410 694.5h3M416 694.5h3M824 694.5h3M830 694.5h3M836 694.5h3M1232 694.5h2M423 695.5h2M428 695.5h3M818 695.5h3M434 696.5h3M681 696.5h2M686 696.5h3M692 696.5h3M698 696.5h3M813 696.5h2M704 697.5h3M807 697.5h2M1239 697.5h2M441 698.5h2M668 698.5h3M674 698.5h3M710 698.5h3M801 698.5h2M662 699.5h3M1244 699.5h3M447 700.5h2M650 700.5h3M656 700.5h3M717 700.5h2M794 700.5h3M639 701.5h2M644 701.5h3M722 701.5h3M789 701.5h2M1250 701.5h3M452 702.5h3M626 702.5h3M632 702.5h3M783 702.5h2M591 703.5h2M596 703.5h3M602 703.5h3M608 703.5h3M614 703.5h3M620 703.5h3M729 703.5h2M777 703.5h2M1257 703.5h2M458 704.5h2M584 704.5h3M734 704.5h3M578 705.5h3M740 705.5h3M770 705.5h3M572 706.5h3M746 706.5h3M759 706.5h2M764 706.5h3M465 707.5h2M566 707.5h3M752 707.5h3M561 708.5h2M471 709.5h2M554 710.5h3M476 711.5h3M548 712.5h3M482 713.5h3M543 713.5h2M537 714.5h2M489 715.5h2M495 716.5h2M500 716.5h3M530 716.5h3M506 717.5h3M519 717.5h2M524 717.5h3M512 718.5h3M8.5 678v1M14.5 676v1M20.5 674v1M28.5 671v1M32.5 670v1M38.5 668v1M52.5 662v1M58.5 659v1M62.5 658v1M70.5 654v1M76.5 651v1M80.5 650v1M86.5 648v1M92.5 646v1M104.5 643v1M158.5 647v1M164.5 649v1M176.5 652v1M188.5 655v1M206.5 658v1M212.5 659v1M236.5 664v1M248.5 667v1M260.5 670v1M272.5 673v1M278.5 674v1M302.5 677v1M326.5 679v1M332.5 680v1M356.5 685v1M398.5 692v1M422.5 694v1M440.5 697v1M446.5 699v1M460.5 705v1M464.5 706v1M470.5 708v1M488.5 714v1M494.5 715v1M518.5 718v1M536.5 715v1M542.5 714v1M560.5 709v1M590.5 704v1M638.5 702v1M680.5 697v1M716.5 699v1M728.5 702v1M758.5 707v1M776.5 704v1M782.5 703v1M788.5 702v1M800.5 699v1M806.5 698v1M812.5 697v1M854.5 693v1M902.5 689v1M908.5 688v1M940.5 679v1M944.5 678v1M950.5 676v1M968.5 670v1M980.5 667v1M1022.5 664v1M1070.5 665v1M1118.5 670v1M1166.5 674v1M1184.5 677v1M1190.5 678v1M1196.5 679v1M1204.5 682v1M1208.5 683v1M1214.5 685v1M1222.5 689v1M1228.5 692v1M1234.5 695v1M1238.5 696v1M1256.5 702v1" fill="none" stroke="#ff0000" stroke-width="1"/>
<rect x="1595" y="702" width="2" height="1" fill="#000"/>
<rect x="2" y="728" width="1" height="3" fill="#000"/>
<rect x="66" y="728" width="1" height="3" fill="#000"/>
<rect x="130" y="728" width="1" height="3" fill="#000"/>
<rect x="194" y="728" width="1" height="3" fill="#000"/>
<rect x="258" y="728" width="1" height="3" fill="#000"/>
<rect x="322" y="728" width="1" height="3" fill="#000"/>
<rect x="386" y="728" width="1" height="3" fill="#000"/>
<rect x="450" y="728" width="1" height="3" fill="#000"/>
<rect x="514" y="728" width="1" height="3" fill="#000"/>
<rect x="578" y="728" width="1" height="3" fill="#000"/>
<rect x="642" y="728" width="1" height="3" fill="#000"/>
<rect x="706" y="728" width="1" height="3" fill="#000"/>
<rect x="770" y="728" width="1" height="3" fill="#000"/>
<rect x="834" y="728" width="1" height="3" fill="#000"/>
<rect x="898" y="728" width="1" height="3" fill="#000"/>
<rect x="962" y="728" width="1" height="3" fill="#000"/>
<rect x="1026" y="728" width="1" height="3" fill="#000"/>
<rect x="1090" y="728" width="1" height="3" fill="#000"/>
<rect x="1154" y="728" width="1" height="3" fill="#000"/>
<rect x="1218" y="728" width="1" height="3" fill="#000"/>
</svg>
<span class="t" style="left:41.02px;top:5px;font-size:9.8px;line-height:13px;height:13px;color:#383838;transform:scaleX(0.996);">M1</span>
<span class="t" style="left:69.01px;top:5px;font-size:9.8px;line-height:13px;height:13px;color:#383838;transform:scaleX(1.012);">M5</span>
<span class="t" style="left:95.23px;top:5px;font-size:9.8px;line-height:13px;height:13px;color:#383838;transform:scaleX(0.981);">M15</span>
<span class="t" style="left:122.63px;top:5px;font-size:9.8px;line-height:13px;height:13px;color:#383838;transform:scaleX(0.987);">M30</span>
<span class="t" style="left:153.80px;top:5px;font-size:9.8px;line-height:13px;height:13px;color:#383838;transform:scaleX(1.020);">H1</span>
<span class="t" style="left:180.98px;top:5px;font-size:9.8px;line-height:13px;height:13px;color:#383838;transform:scaleX(1.047);">H4</span>
<span class="t" style="left:209.80px;top:5px;font-size:9.8px;line-height:13px;height:13px;color:#383838;transform:scaleX(1.020);">D1</span>
<span class="t" style="left:238.00px;top:5px;font-size:9.8px;line-height:13px;height:13px;color:#383838;transform:scaleX(1.006);">W1</span>
<span class="t" style="left:263.54px;top:5px;font-size:9.8px;line-height:13px;height:13px;color:#383838;transform:scaleX(1.093);">MN</span>
<span class="t" style="left:16.53px;top:29px;font-size:9.8px;line-height:13px;height:13px;color:#000;transform:scaleX(0.977);">EURUSD,Daily</span>
<span class="t" style="left:86.86px;top:29px;font-size:9.8px;line-height:13px;height:13px;color:#000;transform:scaleX(0.939);">1.21515</span>
<span class="t" style="left:122.66px;top:29px;font-size:9.8px;line-height:13px;height:13px;color:#000;transform:scaleX(0.944);">1.21769</span>
<span class="t" style="left:158.66px;top:29px;font-size:9.8px;line-height:13px;height:13px;color:#000;transform:scaleX(0.939);">1.21350</span>
<span class="t" style="left:194.46px;top:29px;font-size:9.8px;line-height:13px;height:13px;color:#000;transform:scaleX(0.939);">1.21685</span>
<span class="t" style="left:5.65px;top:543px;font-size:9.8px;line-height:13px;height:13px;color:#000;transform:scaleX(0.955);">RSI(14) 52.1726</span>
<span class="t" style="left:5.65px;top:638px;font-size:9.8px;line-height:13px;height:13px;color:#000;transform:scaleX(0.953);">MACD(12,26,9) -0.000868 -0.000182</span>
<span class="t" style="left:1599.86px;top:34px;font-size:9.8px;line-height:13px;height:13px;color:#000;transform:scaleX(0.945);">1.23725</span>
<span class="t" style="left:1599.86px;top:67px;font-size:9.8px;line-height:13px;height:13px;color:#000;transform:scaleX(0.945);">1.23080</span>
<span class="t" style="left:1599.86px;top:100px;font-size:9.8px;line-height:13px;height:13px;color:#000;transform:scaleX(0.945);">1.22435</span>
<span class="t" style="left:1599.86px;top:133px;font-size:9.8px;line-height:13px;height:13px;color:#000;transform:scaleX(0.945);">1.21790</span>
<span class="t" style="left:1599.84px;top:166px;font-size:9.8px;line-height:13px;height:13px;color:#000;transform:scaleX(0.967);">1.21145</span>
<span class="t" style="left:1599.86px;top:199px;font-size:9.8px;line-height:13px;height:13px;color:#000;transform:scaleX(0.945);">1.20500</span>
<span class="t" style="left:1599.86px;top:232px;font-size:9.8px;line-height:13px;height:13px;color:#000;transform:scaleX(0.945);">1.19855</span>
<span class="t" style="left:1599.86px;top:265px;font-size:9.8px;line-height:13px;height:13px;color:#000;transform:scaleX(0.945);">1.19210</span>
<span class="t" style="left:1599.86px;top:298px;font-size:9.8px;line-height:13px;height:13px;color:#000;transform:scaleX(0.945);">1.18550</span>
<span class="t" style="left:1599.86px;top:331px;font-size:9.8px;line-height:13px;height:13px;color:#000;transform:scaleX(0.945);">1.17905</span>
<span class="t" style="left:1599.86px;top:364px;font-size:9.8px;line-height:13px;height:13px;color:#000;transform:scaleX(0.945);">1.17260</span>
<span class="t" style="left:1599.86px;top:397px;font-size:9.8px;line-height:13px;height:13px;color:#000;transform:scaleX(0.945);">1.16615</span>
<span class="t" style="left:1599.86px;top:430px;font-size:9.8px;line-height:13px;height:13px;color:#000;transform:scaleX(0.945);">1.15970</span>
<span class="t" style="left:1599.86px;top:463px;font-size:9.8px;line-height:13px;height:13px;color:#000;transform:scaleX(0.945);">1.15325</span>
<span class="t" style="left:1599.86px;top:496px;font-size:9.8px;line-height:13px;height:13px;color:#000;transform:scaleX(0.945);">1.14680</span>
<span class="t" style="left:1599.86px;top:529px;font-size:9.8px;line-height:13px;height:13px;color:#000;transform:scaleX(0.945);">1.14035</span>
<span class="t" style="left:1597.48px;top:541px;font-size:9.8px;line-height:13px;height:13px;color:#000;transform:scaleX(0.921);">100</span>
<span class="t" style="left:1597.26px;top:563px;font-size:9.8px;line-height:13px;height:13px;color:#000;transform:scaleX(0.910);">70</span>
<span class="t" style="left:1597.45px;top:599px;font-size:9.8px;line-height:13px;height:13px;color:#000;transform:scaleX(0.893);">30</span>
<span class="t" style="left:1597.82px;top:620px;font-size:9.8px;line-height:13px;height:13px;color:#000;transform:scaleX(0.978);">0</span>
<span class="t" style="left:1597.84px;top:636px;font-size:9.8px;line-height:13px;height:13px;color:#000;transform:scaleX(0.925);">0.014384</span>
<span class="t" style="left:1597.82px;top:697px;font-size:9.8px;line-height:13px;height:13px;color:#000;transform:scaleX(0.982);">0.00</span>
<span class="t" style="left:1597.84px;top:715px;font-size:9.8px;line-height:13px;height:13px;color:#000;transform:scaleX(0.925);">-0.00539</span>
<span class="t" style="left:0.94px;top:731px;font-size:9.8px;line-height:13px;height:13px;color:#000;transform:scaleX(0.928);">21 Jul 2020</span>
<span class="t" style="left:64.84px;top:731px;font-size:9.8px;line-height:13px;height:13px;color:#000;transform:scaleX(0.930);">30 Jul 2020</span>
<span class="t" style="left:128.82px;top:731px;font-size:9.8px;line-height:13px;height:13px;color:#000;transform:scaleX(0.977);">8 Aug 2020</span>
<span class="t" style="left:192.43px;top:731px;font-size:9.8px;line-height:13px;height:13px;color:#000;transform:scaleX(0.978);">18 Aug 2020</span>
<span class="t" style="left:256.82px;top:731px;font-size:9.8px;line-height:13px;height:13px;color:#000;transform:scaleX(0.971);">27 Aug 2020</span>
<span class="t" style="left:320.83px;top:731px;font-size:9.8px;line-height:13px;height:13px;color:#000;transform:scaleX(0.939);">5 Sep 2020</span>
<span class="t" style="left:384.96px;top:731px;font-size:9.8px;line-height:13px;height:13px;color:#000;transform:scaleX(0.943);">15 Sep 2020</span>
<span class="t" style="left:449.03px;top:731px;font-size:9.8px;line-height:13px;height:13px;color:#000;transform:scaleX(0.938);">24 Sep 2020</span>
<span class="t" style="left:513.02px;top:731px;font-size:9.8px;line-height:13px;height:13px;color:#000;transform:scaleX(0.961);">3 Oct 2020</span>
<span class="t" style="left:576.95px;top:731px;font-size:9.8px;line-height:13px;height:13px;color:#000;transform:scaleX(0.963);">13 Oct 2020</span>
<span class="t" style="left:641.02px;top:731px;font-size:9.8px;line-height:13px;height:13px;color:#000;transform:scaleX(0.959);">22 Oct 2020</span>
<span class="t" style="left:705.23px;top:731px;font-size:9.8px;line-height:13px;height:13px;color:#000;transform:scaleX(0.956);">31 Oct 2020</span>
<span class="t" style="left:768.84px;top:731px;font-size:9.8px;line-height:13px;height:13px;color:#000;transform:scaleX(0.973);">10 Nov 2020</span>
<span class="t" style="left:832.63px;top:731px;font-size:9.8px;line-height:13px;height:13px;color:#000;transform:scaleX(0.976);">19 Nov 2020</span>
<span class="t" style="left:897.02px;top:731px;font-size:9.8px;line-height:13px;height:13px;color:#000;transform:scaleX(0.969);">28 Nov 2020</span>
<span class="t" style="left:960.73px;top:731px;font-size:9.8px;line-height:13px;height:13px;color:#000;transform:scaleX(0.945);">8 Dec 2020</span>
<span class="t" style="left:1024.56px;top:731px;font-size:9.8px;line-height:13px;height:13px;color:#000;transform:scaleX(0.945);">17 Dec 2020</span>
<span class="t" style="left:1088.93px;top:731px;font-size:9.8px;line-height:13px;height:13px;color:#000;transform:scaleX(0.938);">28 Dec 2020</span>
<span class="t" style="left:1152.75px;top:731px;font-size:9.8px;line-height:13px;height:13px;color:#000;transform:scaleX(0.936);">7 Jan 2021</span>
<span class="t" style="left:1216.57px;top:731px;font-size:9.8px;line-height:13px;height:13px;color:#000;transform:scaleX(0.931);">16 Jan 2021</span>
<span class="t" style="left:14.54px;top:753px;font-size:12.3px;line-height:16px;height:16px;color:#000;transform:scaleX(0.972);">EURUSD,Daily</span>
<span class="t" style="left:116.43px;top:753px;font-size:12.3px;line-height:16px;height:16px;color:#707070;transform:scaleX(0.982);">USDCHF,Daily</span>
<span class="t" style="left:217.80px;top:753px;font-size:12.3px;line-height:16px;height:16px;color:#707070;transform:scaleX(0.993);">AUDUSD,Daily</span>
<span class="t" style="left:321.53px;top:753px;font-size:12.3px;line-height:16px;height:16px;color:#707070;transform:scaleX(0.983);">USDCAD,Daily</span>
<span class="t" style="left:424.01px;top:753px;font-size:12.3px;line-height:16px;height:16px;color:#707070;transform:scaleX(1.007);">USDCNH,Daily</span>
<span class="t" style="left:530.04px;top:753px;font-size:12.3px;line-height:16px;height:16px;color:#707070;transform:scaleX(0.977);">EURUSD,Daily</span>
<span class="t" style="left:634.28px;top:753px;font-size:12.3px;line-height:16px;height:16px;color:#707070;transform:scaleX(0.970);">GBPUSD,H4</span>
<span class="t" style="left:725.26px;top:753px;font-size:12.3px;line-height:16px;height:16px;color:#707070;transform:scaleX(0.995);">XAUUSD,H4</span>
<span class="t" style="left:816.98px;top:753px;font-size:12.3px;line-height:16px;height:16px;color:#707070;transform:scaleX(1.033);">HK50,H1</span>
<span class="t" style="left:889.30px;top:753px;font-size:12.3px;line-height:16px;height:16px;color:#707070;transform:scaleX(1.016);">UK100,H1</span>
<span class="t" style="left:968.99px;top:753px;font-size:12.3px;line-height:16px;height:16px;color:#707070;transform:scaleX(1.027);">UK100,H1</span>
<span class="t" style="left:1049.48px;top:753px;font-size:12.3px;line-height:16px;height:16px;color:#707070;transform:scaleX(0.971);">GER30,H1</span>
<span class="t" style="left:1128.24px;top:753px;font-size:12.3px;line-height:16px;height:16px;color:#707070;transform:scaleX(0.971);">FRA40,H1</span>
<span class="t" style="left:1204.78px;top:753px;font-size:12.3px;line-height:16px;height:16px;color:#707070;transform:scaleX(1.034);">USOil,Weekly</span>
<span class="t" style="left:1304.45px;top:753px;font-size:12.3px;line-height:16px;height:16px;color:#707070;transform:scaleX(0.970);">USDJPY,H1</span>
<span class="t" style="left:1388.01px;top:753px;font-size:12.3px;line-height:16px;height:16px;color:#707070;transform:scaleX(1.008);">DJ30,Daily</span>
<span class="t" style="left:1468.25px;top:753px;font-size:12.3px;line-height:16px;height:16px;color:#707070;transform:scaleX(1.020);">CHINA300,H1</span>
<span class="t" style="left:1567.98px;top:753px;font-size:12.3px;line-height:16px;height:16px;color:#707070;transform:scaleX(1.037);">USOil,</span>
<div class="lb" style="top:70px;background:#ff0000;"><span class="t" style="left:3.96px;top:0px;font-size:9.8px;line-height:13px;height:13px;color:#fff;transform:scaleX(0.938);">1.23002</span></div>
<div class="lb" style="top:120px;background:#00ff00;"><span class="t" style="left:3.97px;top:0px;font-size:9.8px;line-height:13px;height:13px;color:#fff;transform:scaleX(0.933);">1.22016</span></div>
<div class="lb" style="top:138px;background:#000;"><span class="t" style="left:3.97px;top:0px;font-size:9.8px;line-height:13px;height:13px;color:#fff;transform:scaleX(0.933);">1.21685</span></div>
<div class="lb" style="top:172px;background:#0000ff;"><span class="t" style="left:3.96px;top:0px;font-size:9.8px;line-height:13px;height:13px;color:#fff;transform:scaleX(0.938);">1.21009</span></div>
<div class="lb" style="top:223px;background:#0000ff;"><span class="t" style="left:3.96px;top:0px;font-size:9.8px;line-height:13px;height:13px;color:#fff;transform:scaleX(0.938);">1.20001</span></div>
<svg width="26" height="22" viewBox="0 0 26 22"><polygon points="15,9 20.2,9 17.6,12" fill="#000"/><polygon points="1,13.2 3,13.2 3.3,12.2 5.8,12.2 6,13.2 8,13.2 4.5,17" fill="#555"/><path d="M-0.5 7.3 L2.6 8.2 Q3 8.8 2.5 9.5 L-0.5 11.7" stroke="#111" stroke-width="1.4" fill="none"/></svg>
<svg width="1634" height="774" viewBox="0 0 1634 774"><polygon points="1613,756 1613,762.5 1609.5,759.2" fill="#a0a0a0"/><polygon points="1629,755.5 1629,762.5 1632.5,759" fill="#000"/></svg>
</body></html>
